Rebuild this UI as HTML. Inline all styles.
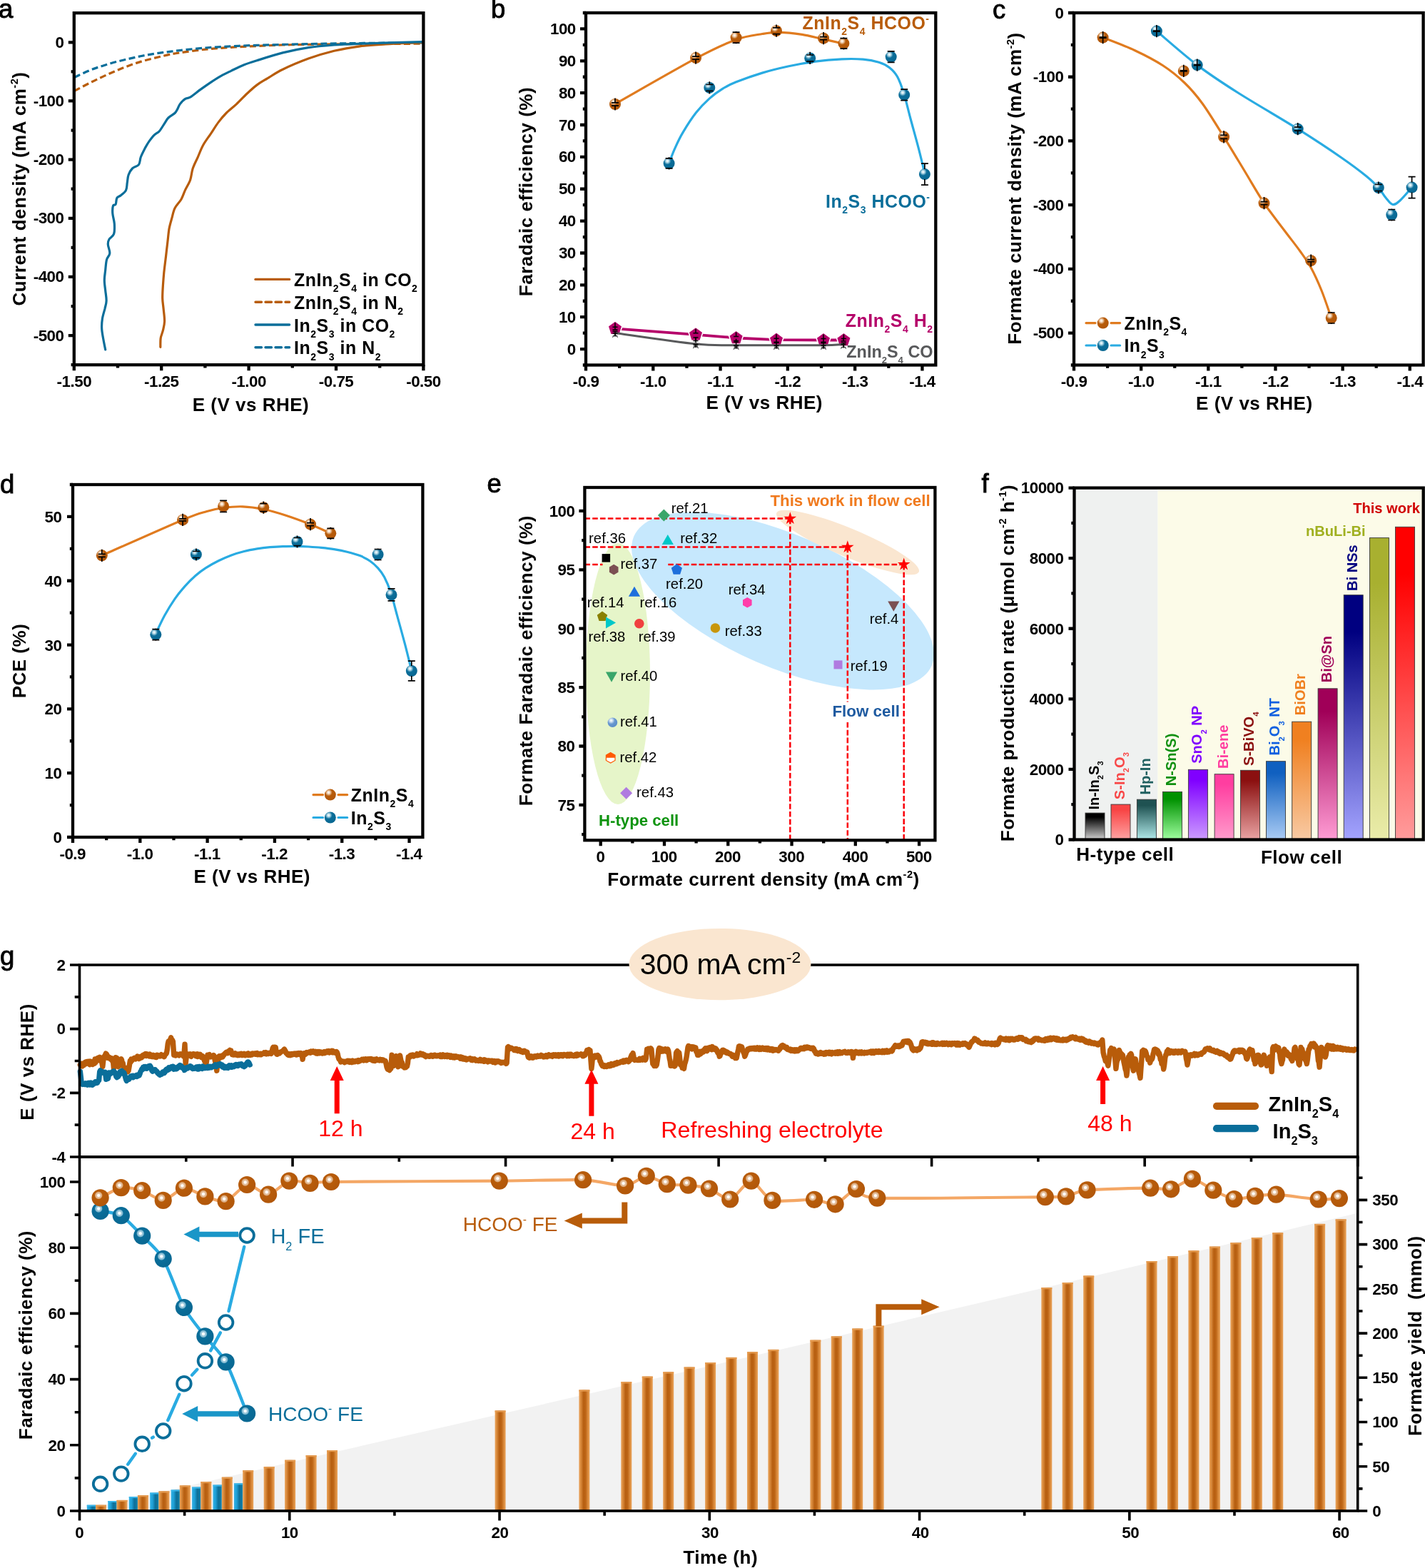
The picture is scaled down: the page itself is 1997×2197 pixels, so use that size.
<!DOCTYPE html>
<html lang="en"><head><meta charset="utf-8"><title>Figure</title>
<style>
html,body{margin:0;padding:0;background:#fff;}
body{width:1997px;height:2197px;overflow:hidden;}
svg{display:block;font-family:"Liberation Sans", Arial, Helvetica, sans-serif;}
text{font-family:"Liberation Sans", Arial, Helvetica, sans-serif;}
</style></head><body>
<svg width="1997" height="2197" viewBox="0 0 1997 2197">
<defs>
<radialGradient id="gO" cx="0.36" cy="0.30" r="0.75" fx="0.36" fy="0.30"><stop offset="0" stop-color="#ffffff"/><stop offset="0.16" stop-color="#f3d9bf"/><stop offset="0.42" stop-color="#b85c0a"/><stop offset="1" stop-color="#b0560a"/></radialGradient>
<radialGradient id="gS" cx="0.36" cy="0.30" r="0.75" fx="0.36" fy="0.30"><stop offset="0" stop-color="#ffffff"/><stop offset="0.2" stop-color="#cfe0f2"/><stop offset="0.5" stop-color="#6897cf"/><stop offset="1" stop-color="#5a8cc8"/></radialGradient>
<radialGradient id="gB" cx="0.36" cy="0.30" r="0.75" fx="0.36" fy="0.30"><stop offset="0" stop-color="#ffffff"/><stop offset="0.16" stop-color="#bfe0ec"/><stop offset="0.42" stop-color="#0a6e9a"/><stop offset="1" stop-color="#086690"/></radialGradient>
<radialGradient id="gO2" cx="0.40" cy="0.36" r="0.7" fx="0.40" fy="0.36"><stop offset="0" stop-color="#ffffff"/><stop offset="0.09" stop-color="#ffffff"/><stop offset="0.15" stop-color="#e9c9aa"/><stop offset="0.27" stop-color="#dba97c"/><stop offset="0.33" stop-color="#b85c0a"/><stop offset="1" stop-color="#b0560a"/></radialGradient>
<radialGradient id="gB2" cx="0.40" cy="0.36" r="0.7" fx="0.40" fy="0.36"><stop offset="0" stop-color="#ffffff"/><stop offset="0.09" stop-color="#ffffff"/><stop offset="0.15" stop-color="#aad2e2"/><stop offset="0.27" stop-color="#7cb6cf"/><stop offset="0.33" stop-color="#0a6e9a"/><stop offset="1" stop-color="#086690"/></radialGradient>
</defs>
<rect width="1997" height="2197" fill="#fff"/>
<path d="M104.1 127.5C107.8 125.6 119.4 119.4 126.1 116.0C132.8 112.6 138.1 110.1 144.1 107.4C150.1 104.6 156.1 102.0 162.1 99.4C168.1 96.9 174.1 94.4 180.1 92.2C186.1 90.0 192.1 87.9 198.1 86.1C204.1 84.3 210.1 82.9 216.2 81.4C222.2 79.9 228.2 78.4 234.2 77.1C240.2 75.8 243.2 75.2 252.2 73.9C261.2 72.5 276.2 70.4 288.2 69.2C300.2 67.9 312.2 67.1 324.2 66.3C336.2 65.5 348.2 65.0 360.3 64.5C372.3 63.9 384.3 63.4 396.3 63.0C408.3 62.7 414.3 62.6 432.3 62.3C450.3 62.1 477.6 61.8 504.4 61.6C531.1 61.4 577.9 61.3 592.6 61.2" stroke="#b85c0a" stroke-width="3.2" fill="none" stroke-dasharray="9 4.5"/>
<path d="M104.1 108.4C107.8 106.8 119.4 101.1 126.1 98.4C132.8 95.6 138.1 94.1 144.1 92.2C150.1 90.3 156.1 88.4 162.1 86.8C168.1 85.2 174.1 83.9 180.1 82.5C186.1 81.1 192.1 79.7 198.1 78.5C204.1 77.3 210.1 76.3 216.2 75.3C222.2 74.3 228.2 73.6 234.2 72.8C240.2 72.0 243.2 71.6 252.2 70.6C261.2 69.6 276.2 68.0 288.2 67.0C300.2 66.0 312.2 65.4 324.2 64.8C336.2 64.2 342.2 63.9 360.3 63.4C378.3 62.9 408.3 62.1 432.3 61.6C456.3 61.1 477.6 60.8 504.4 60.5C531.1 60.2 577.9 59.9 592.6 59.8" stroke="#0a6e9a" stroke-width="3.2" fill="none" stroke-dasharray="9 4.5"/>
<path d="M592.6 59.4C583.9 59.9 555.1 61.1 540.4 62.0C525.7 62.9 516.4 63.3 504.4 64.8C492.4 66.4 480.3 68.4 468.3 71.3C456.3 74.2 444.3 77.8 432.3 82.1C420.3 86.5 405.9 92.6 396.3 97.3C386.7 101.9 380.7 106.3 374.7 109.9C368.7 113.5 365.1 115.3 360.3 118.9C355.5 122.5 350.6 127.0 345.8 131.5C341.0 136.0 336.2 141.4 331.4 145.9C326.6 150.4 321.2 154.3 317.0 158.5C312.8 162.7 309.8 166.3 306.2 171.1C302.6 175.9 299.0 181.9 295.4 187.3C291.8 192.7 287.6 198.1 284.6 203.5C281.6 208.9 279.8 214.4 277.4 219.8C275.0 225.2 272.0 230.6 270.2 236.0C268.4 241.4 268.4 247.1 266.6 252.2C264.8 257.3 261.5 262.1 259.4 266.6C257.3 271.1 256.4 275.0 254.0 279.2C251.6 283.4 247.2 287.3 245.0 291.8C242.8 296.3 242.0 301.4 240.7 306.2C239.3 311.0 238.0 315.2 237.0 320.6C236.1 326.0 235.7 332.0 234.9 338.6C234.1 345.2 233.2 353.1 232.4 360.3C231.5 367.5 230.5 375.3 229.8 381.9C229.2 388.5 228.8 393.9 228.4 399.9C228.0 405.9 227.6 412.5 227.7 417.9C227.8 423.3 228.6 426.9 229.1 432.3C229.6 437.7 230.7 445.2 230.6 450.3C230.4 455.4 229.3 459.0 228.4 462.9C227.5 466.8 225.8 469.8 225.2 473.7C224.6 477.6 224.9 484.2 224.8 486.3" stroke="#b85c0a" stroke-width="3.2" fill="none" stroke-linecap="round"/>
<path d="M592.6 58.7C577.9 59.1 525.1 60.5 504.4 61.2C483.6 62.0 480.3 62.1 468.3 63.0C456.3 63.9 444.3 64.8 432.3 66.6C420.3 68.4 408.3 70.9 396.3 73.9C384.3 76.9 369.3 81.8 360.3 84.7C351.3 87.5 348.2 88.4 342.2 90.8C336.2 93.2 329.6 96.5 324.2 99.1C318.8 101.7 314.6 103.6 309.8 106.3C305.0 109.0 300.2 112.1 295.4 115.3C290.6 118.5 285.8 121.9 281.0 125.4C276.2 128.9 270.2 134.0 266.6 136.2C263.0 138.4 261.8 137.1 259.4 138.7C257.0 140.3 254.0 143.5 252.2 145.9C250.4 148.3 249.8 151.0 248.6 153.1C247.4 155.2 247.1 156.5 245.0 158.5C242.9 160.5 238.4 162.6 236.0 165.0C233.6 167.4 232.7 169.8 230.6 172.9C228.5 176.0 225.8 181.0 223.4 183.7C221.0 186.4 218.6 186.7 216.2 189.1C213.8 191.5 211.1 195.1 208.9 198.1C206.8 201.1 205.5 203.5 203.5 207.1C201.6 210.8 198.9 215.9 197.4 219.8C195.9 223.7 196.5 227.9 194.5 230.6C192.6 233.3 187.9 233.6 185.5 236.0C183.1 238.4 181.3 241.7 180.1 245.0C178.9 248.3 178.9 252.2 178.3 255.8C177.7 259.4 178.0 263.6 176.5 266.6C175.0 269.6 171.4 272.0 169.3 273.8C167.2 275.6 165.1 275.3 163.9 277.4C162.7 279.5 163.0 284.6 162.1 286.4C161.2 288.2 159.2 286.1 158.5 288.2C157.8 290.3 157.5 294.8 157.8 299.0C158.1 303.2 160.0 308.6 160.3 313.4C160.6 318.2 160.8 324.2 159.6 327.8C158.4 331.4 154.5 332.6 153.1 335.0C151.7 337.4 151.2 338.9 151.3 342.2C151.4 345.5 154.1 351.3 153.8 354.9C153.5 358.5 150.5 360.0 149.5 363.9C148.5 367.8 148.2 373.5 147.7 378.3C147.2 383.1 146.3 387.9 146.3 392.7C146.3 397.5 147.2 402.3 147.7 407.1C148.2 411.9 149.3 417.3 149.1 421.5C149.0 425.7 147.9 428.1 147.0 432.3C146.0 436.5 144.1 441.9 143.4 446.7C142.7 451.5 142.3 455.7 142.7 461.1C143.0 466.5 144.7 474.3 145.5 479.1C146.4 483.9 147.3 488.1 147.7 489.9" stroke="#0a6e9a" stroke-width="3.2" fill="none" stroke-linecap="round"/>
<rect x="103.80" y="18.20" width="489.60" height="493.00" fill="none" stroke="#000" stroke-width="4.3"/>
<path d="M103.80 511.20v8.00M226.20 511.20v8.00M348.60 511.20v8.00M471.00 511.20v8.00M593.40 511.20v8.00M165.00 511.20v4.20M287.40 511.20v4.20M409.80 511.20v4.20M532.20 511.20v4.20" stroke="#000" stroke-width="4.3" fill="none"/>
<path d="M103.80 59.28h-8.00M103.80 141.45h-8.00M103.80 223.62h-8.00M103.80 305.78h-8.00M103.80 387.95h-8.00M103.80 470.12h-8.00M103.80 100.37h-4.20M103.80 182.53h-4.20M103.80 264.70h-4.20M103.80 346.87h-4.20M103.80 429.03h-4.20M103.80 511.20h-4.20" stroke="#000" stroke-width="4.3" fill="none"/>
<text x="103.85" y="542.40" font-size="22.4" text-anchor="middle" font-weight="bold" letter-spacing="-0.5">-1.50</text>
<text x="226.25" y="542.40" font-size="22.4" text-anchor="middle" font-weight="bold" letter-spacing="-0.5">-1.25</text>
<text x="348.65" y="542.40" font-size="22.4" text-anchor="middle" font-weight="bold" letter-spacing="-0.5">-1.00</text>
<text x="471.05" y="542.40" font-size="22.4" text-anchor="middle" font-weight="bold" letter-spacing="-0.5">-0.75</text>
<text x="593.45" y="542.40" font-size="22.4" text-anchor="middle" font-weight="bold" letter-spacing="-0.5">-0.50</text>
<text x="89.50" y="66.78" font-size="22.4" text-anchor="end" font-weight="bold" letter-spacing="-0.5">0</text>
<text x="89.50" y="148.95" font-size="22.4" text-anchor="end" font-weight="bold" letter-spacing="-0.5">-100</text>
<text x="89.50" y="231.12" font-size="22.4" text-anchor="end" font-weight="bold" letter-spacing="-0.5">-200</text>
<text x="89.50" y="313.28" font-size="22.4" text-anchor="end" font-weight="bold" letter-spacing="-0.5">-300</text>
<text x="89.50" y="395.45" font-size="22.4" text-anchor="end" font-weight="bold" letter-spacing="-0.5">-400</text>
<text x="89.50" y="477.62" font-size="22.4" text-anchor="end" font-weight="bold" letter-spacing="-0.5">-500</text>
<text x="351.55" y="575.50" font-size="26.0" text-anchor="middle" font-weight="bold" letter-spacing="0.5">E (V vs RHE)</text>
<text x="35.60" y="264.50" font-size="26.0" text-anchor="middle" font-weight="bold" letter-spacing="0.5" transform="rotate(-90 35.60 264.50)">Current density (mA cm<tspan dy="-10.40" font-size="14.56">-2</tspan><tspan dy="10.40">)</tspan></text>
<path d="M358 391.4H405.6" stroke="#b85c0a" stroke-width="3.4" stroke-linecap="round"/>
<text x="412.00" y="400.90" font-size="24.9" font-weight="bold" letter-spacing="0.55">ZnIn<tspan dy="8.22" font-size="13.94">2</tspan><tspan dy="-8.22">S</tspan><tspan dy="8.22" font-size="13.94">4</tspan><tspan dy="-8.22"> in CO</tspan><tspan dy="8.22" font-size="13.94">2</tspan></text>
<path d="M358 423.2H405.6" stroke="#b85c0a" stroke-width="3.4" stroke-linecap="round" stroke-dasharray="8.5 5.5"/>
<text x="412.00" y="432.70" font-size="24.9" font-weight="bold" letter-spacing="0.55">ZnIn<tspan dy="8.22" font-size="13.94">2</tspan><tspan dy="-8.22">S</tspan><tspan dy="8.22" font-size="13.94">4</tspan><tspan dy="-8.22"> in N</tspan><tspan dy="8.22" font-size="13.94">2</tspan></text>
<path d="M358 455.0H405.6" stroke="#0a6e9a" stroke-width="3.4" stroke-linecap="round"/>
<text x="412.00" y="464.50" font-size="24.9" font-weight="bold" letter-spacing="0.55">In<tspan dy="8.22" font-size="13.94">2</tspan><tspan dy="-8.22">S</tspan><tspan dy="8.22" font-size="13.94">3</tspan><tspan dy="-8.22"> in CO</tspan><tspan dy="8.22" font-size="13.94">2</tspan></text>
<path d="M358 486.8H405.6" stroke="#0a6e9a" stroke-width="3.4" stroke-linecap="round" stroke-dasharray="8.5 5.5"/>
<text x="412.00" y="496.30" font-size="24.9" font-weight="bold" letter-spacing="0.55">In<tspan dy="8.22" font-size="13.94">2</tspan><tspan dy="-8.22">S</tspan><tspan dy="8.22" font-size="13.94">3</tspan><tspan dy="-8.22"> in N</tspan><tspan dy="8.22" font-size="13.94">2</tspan></text>
<text x="-2.00" y="24.50" font-size="36.5" stroke="#000" stroke-width="0.9">a</text>
<path d="M937.7 228.3C939.1 224.9 942.6 215.0 945.8 207.9C949.0 200.8 952.0 193.9 957.0 185.6C962.0 177.2 969.3 165.7 975.5 157.8C981.7 149.9 987.9 143.7 994.1 138.1C1000.3 132.5 1006.4 128.2 1012.6 124.4C1018.8 120.6 1021.9 118.8 1031.2 115.1C1040.5 111.4 1055.9 105.8 1068.3 102.1C1080.7 98.4 1093.0 95.5 1105.4 92.8C1117.8 90.1 1130.2 87.8 1142.6 86.1C1155.0 84.4 1168.6 83.3 1179.7 82.8C1190.8 82.3 1200.8 82.4 1209.4 83.1C1218.1 83.8 1225.4 85.3 1231.6 87.2C1237.8 89.1 1242.2 91.3 1246.5 94.7C1250.8 98.1 1254.2 101.4 1257.6 107.6C1261.0 113.8 1263.8 121.9 1266.9 131.8C1270.0 141.7 1272.8 154.3 1276.2 167.0C1279.6 179.7 1284.0 195.2 1287.3 207.9C1290.6 220.6 1294.5 237.2 1295.9 243.1" stroke="#29abe2" stroke-width="3.2" fill="none"/>
<path d="M862.3 145.5C881.2 134.9 947.4 96.7 975.5 81.7C1003.6 66.7 1015.7 61.4 1031.2 55.7C1046.7 50.0 1058.4 49.2 1068.3 47.5C1078.2 45.8 1081.3 45.2 1090.6 45.3C1099.9 45.4 1113.5 46.7 1124.0 48.3C1134.5 49.9 1144.0 52.8 1153.7 54.9C1163.4 57.0 1177.5 60.2 1182.3 61.2" stroke="#e07b1f" stroke-width="3.2" fill="none"/>
<path d="M862.0 460.3L975.0 468.8L1031.6 473.5L1088.0 476.2L1154.0 476.5L1182.4 476.5" stroke="#b5006a" stroke-width="3.8" fill="none"/>
<polygon points="862.0,460.4 863.6,465.4 868.8,465.4 864.6,468.4 866.2,473.4 862.0,470.4 857.8,473.4 859.4,468.4 855.2,465.4 860.4,465.4" fill="#58595b"/>
<polygon points="975.0,475.8 976.6,480.8 981.8,480.8 977.6,483.8 979.2,488.8 975.0,485.8 970.8,488.8 972.4,483.8 968.2,480.8 973.4,480.8" fill="#58595b"/>
<polygon points="1031.6,477.5 1033.2,482.5 1038.4,482.5 1034.2,485.5 1035.8,490.5 1031.6,487.5 1027.4,490.5 1029.0,485.5 1024.8,482.5 1030.0,482.5" fill="#58595b"/>
<polygon points="1088.0,477.5 1089.6,482.5 1094.8,482.5 1090.6,485.5 1092.2,490.5 1088.0,487.5 1083.8,490.5 1085.4,485.5 1081.2,482.5 1086.4,482.5" fill="#58595b"/>
<polygon points="1154.0,477.5 1155.6,482.5 1160.8,482.5 1156.6,485.5 1158.2,490.5 1154.0,487.5 1149.8,490.5 1151.4,485.5 1147.2,482.5 1152.4,482.5" fill="#58595b"/>
<polygon points="1182.0,476.3 1183.6,481.3 1188.8,481.3 1184.6,484.3 1186.2,489.3 1182.0,486.3 1177.8,489.3 1179.4,484.3 1175.2,481.3 1180.4,481.3" fill="#58595b"/>
<polygon points="862.0,449.8 872.0,457.1 868.2,468.8 855.8,468.8 852.0,457.1" fill="#b5006a" stroke="#fff" stroke-width="1.6"/>
<polygon points="975.0,458.3 985.0,465.6 981.2,477.3 968.8,477.3 965.0,465.6" fill="#b5006a" stroke="#fff" stroke-width="1.6"/>
<polygon points="1031.6,463.0 1041.6,470.3 1037.8,482.0 1025.4,482.0 1021.6,470.3" fill="#b5006a" stroke="#fff" stroke-width="1.6"/>
<polygon points="1088.0,465.7 1098.0,473.0 1094.2,484.7 1081.8,484.7 1078.0,473.0" fill="#b5006a" stroke="#fff" stroke-width="1.6"/>
<polygon points="1154.0,466.0 1164.0,473.3 1160.2,485.0 1147.8,485.0 1144.0,473.3" fill="#b5006a" stroke="#fff" stroke-width="1.6"/>
<polygon points="1182.4,466.0 1192.4,473.3 1188.6,485.0 1176.2,485.0 1172.4,473.3" fill="#b5006a" stroke="#fff" stroke-width="1.6"/>
<path d="M862.0 466.6C880.8 469.2 946.7 479.1 975.0 482.0C1003.3 484.9 1012.8 483.4 1031.6 483.7C1050.4 484.0 1067.6 483.7 1088.0 483.7C1108.4 483.7 1138.3 483.9 1154.0 483.7C1169.7 483.5 1177.3 482.7 1182.0 482.5" stroke="#58595b" stroke-width="3" fill="none"/>
<path d="M858.5 458.3h7.0M858.5 464.3h7.0M862.0 452.3V458.3M862.0 464.3V470.3" stroke="#000" stroke-width="1.5" fill="none"/>
<path d="M971.5 466.8h7.0M971.5 472.8h7.0M975.0 460.8V466.8M975.0 472.8V478.8" stroke="#000" stroke-width="1.5" fill="none"/>
<path d="M1028.1 471.5h7.0M1028.1 477.5h7.0M1031.6 465.5V471.5M1031.6 477.5V483.5" stroke="#000" stroke-width="1.5" fill="none"/>
<path d="M1084.5 474.2h7.0M1084.5 480.2h7.0M1088.0 468.2V474.2M1088.0 480.2V486.2" stroke="#000" stroke-width="1.5" fill="none"/>
<path d="M1150.5 474.5h7.0M1150.5 480.5h7.0M1154.0 468.5V474.5M1154.0 480.5V486.5" stroke="#000" stroke-width="1.5" fill="none"/>
<path d="M1178.9 474.5h7.0M1178.9 480.5h7.0M1182.4 468.5V474.5M1182.4 480.5V486.5" stroke="#000" stroke-width="1.5" fill="none"/>
<path d="M858.5 462.1h7.0M858.5 467.1h7.0M862.0 457.6V462.1M862.0 467.1V471.6" stroke="#000" stroke-width="1.5" fill="none"/>
<path d="M971.5 477.5h7.0M971.5 482.5h7.0M975.0 473.0V477.5M975.0 482.5V487.0" stroke="#000" stroke-width="1.5" fill="none"/>
<path d="M1028.1 479.2h7.0M1028.1 484.2h7.0M1031.6 474.7V479.2M1031.6 484.2V488.7" stroke="#000" stroke-width="1.5" fill="none"/>
<path d="M1084.5 479.2h7.0M1084.5 484.2h7.0M1088.0 474.7V479.2M1088.0 484.2V488.7" stroke="#000" stroke-width="1.5" fill="none"/>
<path d="M1150.5 479.2h7.0M1150.5 484.2h7.0M1154.0 474.7V479.2M1154.0 484.2V488.7" stroke="#000" stroke-width="1.5" fill="none"/>
<path d="M1178.5 478.0h7.0M1178.5 483.0h7.0M1182.0 473.5V478.0M1182.0 483.0V487.5" stroke="#000" stroke-width="1.5" fill="none"/>
<circle cx="862.0" cy="146.0" r="8" fill="url(#gO)"/>
<path d="M857.0 143.8h10M857.0 148.2h10M862.0 137.4V143.8M862.0 148.2V154.6" stroke="#000" stroke-width="1.7" fill="none"/>
<circle cx="975.1" cy="81.1" r="8" fill="url(#gO)"/>
<path d="M970.1 79.1h10M970.1 83.1h10M975.1 72.5V79.1M975.1 83.1V89.7" stroke="#000" stroke-width="1.7" fill="none"/>
<circle cx="1031.6" cy="52.6" r="8" fill="url(#gO)"/>
<path d="M1026.6 45.1h10M1026.6 60.1h10M1031.6 44.0V45.1M1031.6 60.1V61.2" stroke="#000" stroke-width="1.7" fill="none"/>
<circle cx="1088.0" cy="43.2" r="8" fill="url(#gO)"/>
<path d="M1083.0 38.8h10M1083.0 47.6h10M1088.0 34.6V38.8M1088.0 47.6V51.8" stroke="#000" stroke-width="1.7" fill="none"/>
<circle cx="1154.1" cy="53.7" r="8" fill="url(#gO)"/>
<path d="M1149.1 51.7h10M1149.1 55.7h10M1154.1 45.1V51.7M1154.1 55.7V62.3" stroke="#000" stroke-width="1.7" fill="none"/>
<circle cx="1182.4" cy="60.9" r="8" fill="url(#gO)"/>
<path d="M1177.4 53.6h10M1177.4 68.2h10M1182.4 52.3V53.6M1182.4 68.2V69.5" stroke="#000" stroke-width="1.7" fill="none"/>
<circle cx="937.6" cy="228.8" r="8" fill="url(#gB)"/>
<path d="M932.6 221.8h10M932.6 235.8h10M937.6 220.2V221.8M937.6 235.8V237.4" stroke="#000" stroke-width="1.7" fill="none"/>
<circle cx="994.3" cy="122.9" r="8" fill="url(#gB)"/>
<path d="M989.3 118.5h10M989.3 127.3h10M994.3 114.3V118.5M994.3 127.3V131.5" stroke="#000" stroke-width="1.7" fill="none"/>
<circle cx="1135.2" cy="81.4" r="8" fill="url(#gB)"/>
<path d="M1130.2 77.0h10M1130.2 85.8h10M1135.2 72.8V77.0M1135.2 85.8V90.0" stroke="#000" stroke-width="1.7" fill="none"/>
<circle cx="1248.7" cy="79.6" r="8" fill="url(#gB)"/>
<path d="M1243.7 71.9h10M1243.7 87.3h10M1248.7 71.0V71.9M1248.7 87.3V88.2" stroke="#000" stroke-width="1.7" fill="none"/>
<circle cx="1267.2" cy="132.9" r="8" fill="url(#gB)"/>
<path d="M1262.2 125.2h10M1262.2 140.6h10M1267.2 124.3V125.2M1267.2 140.6V141.5" stroke="#000" stroke-width="1.7" fill="none"/>
<circle cx="1295.9" cy="244.1" r="8" fill="url(#gB)"/>
<path d="M1290.9 229.1h10M1290.9 259.1h10M1295.9 229.1V237.1M1295.9 251.1V259.1" stroke="#000" stroke-width="1.7" fill="none"/>
<rect x="821.00" y="18.00" width="490.30" height="493.50" fill="none" stroke="#000" stroke-width="4.3"/>
<path d="M821.00 511.50v8.00M915.29 511.50v8.00M1009.58 511.50v8.00M1103.87 511.50v8.00M1198.15 511.50v8.00M1292.44 511.50v8.00M868.14 511.50v4.20M962.43 511.50v4.20M1056.72 511.50v4.20M1151.01 511.50v4.20M1245.30 511.50v4.20" stroke="#000" stroke-width="4.3" fill="none"/>
<path d="M821.00 489.07h-8.00M821.00 444.20h-8.00M821.00 399.34h-8.00M821.00 354.48h-8.00M821.00 309.61h-8.00M821.00 264.75h-8.00M821.00 219.89h-8.00M821.00 175.02h-8.00M821.00 130.16h-8.00M821.00 85.30h-8.00M821.00 40.43h-8.00M821.00 511.50h-4.20M821.00 466.64h-4.20M821.00 421.77h-4.20M821.00 376.91h-4.20M821.00 332.05h-4.20M821.00 287.18h-4.20M821.00 242.32h-4.20M821.00 197.45h-4.20M821.00 152.59h-4.20M821.00 107.73h-4.20M821.00 62.86h-4.20M821.00 18.00h-4.20" stroke="#000" stroke-width="4.3" fill="none"/>
<text x="821.05" y="542.40" font-size="22.4" text-anchor="middle" font-weight="bold" letter-spacing="-0.5">-0.9</text>
<text x="915.34" y="542.40" font-size="22.4" text-anchor="middle" font-weight="bold" letter-spacing="-0.5">-1.0</text>
<text x="1009.63" y="542.40" font-size="22.4" text-anchor="middle" font-weight="bold" letter-spacing="-0.5">-1.1</text>
<text x="1103.92" y="542.40" font-size="22.4" text-anchor="middle" font-weight="bold" letter-spacing="-0.5">-1.2</text>
<text x="1198.20" y="542.40" font-size="22.4" text-anchor="middle" font-weight="bold" letter-spacing="-0.5">-1.3</text>
<text x="1292.49" y="542.40" font-size="22.4" text-anchor="middle" font-weight="bold" letter-spacing="-0.5">-1.4</text>
<text x="806.80" y="496.57" font-size="22.4" text-anchor="end" font-weight="bold" letter-spacing="-0.5">0</text>
<text x="806.80" y="451.70" font-size="22.4" text-anchor="end" font-weight="bold" letter-spacing="-0.5">10</text>
<text x="806.80" y="406.84" font-size="22.4" text-anchor="end" font-weight="bold" letter-spacing="-0.5">20</text>
<text x="806.80" y="361.98" font-size="22.4" text-anchor="end" font-weight="bold" letter-spacing="-0.5">30</text>
<text x="806.80" y="317.11" font-size="22.4" text-anchor="end" font-weight="bold" letter-spacing="-0.5">40</text>
<text x="806.80" y="272.25" font-size="22.4" text-anchor="end" font-weight="bold" letter-spacing="-0.5">50</text>
<text x="806.80" y="227.39" font-size="22.4" text-anchor="end" font-weight="bold" letter-spacing="-0.5">60</text>
<text x="806.80" y="182.52" font-size="22.4" text-anchor="end" font-weight="bold" letter-spacing="-0.5">70</text>
<text x="806.80" y="137.66" font-size="22.4" text-anchor="end" font-weight="bold" letter-spacing="-0.5">80</text>
<text x="806.80" y="92.80" font-size="22.4" text-anchor="end" font-weight="bold" letter-spacing="-0.5">90</text>
<text x="806.80" y="47.93" font-size="22.4" text-anchor="end" font-weight="bold" letter-spacing="-0.5">100</text>
<text x="1071.25" y="572.60" font-size="26.0" text-anchor="middle" font-weight="bold" letter-spacing="0.5">E (V vs RHE)</text>
<text x="745.50" y="268.50" font-size="26.0" text-anchor="middle" font-weight="bold" letter-spacing="0.5" transform="rotate(-90 745.50 268.50)">Faradaic efficiency (%)</text>
<text x="1302.55" y="41.00" font-size="24.9" text-anchor="end" font-weight="bold" fill="#b85c0a" letter-spacing="0.55">ZnIn<tspan dy="8.22" font-size="13.94">2</tspan><tspan dy="-8.22">S</tspan><tspan dy="8.22" font-size="13.94">4</tspan><tspan dy="-8.22"> HCOO</tspan><tspan dy="-9.96" font-size="13.94">-</tspan></text>
<text x="1303.55" y="291.00" font-size="24.9" text-anchor="end" font-weight="bold" fill="#0a6e9a" letter-spacing="0.55">In<tspan dy="8.22" font-size="13.94">2</tspan><tspan dy="-8.22">S</tspan><tspan dy="8.22" font-size="13.94">3</tspan><tspan dy="-8.22"> HCOO</tspan><tspan dy="-9.96" font-size="13.94">-</tspan></text>
<text x="1307.55" y="458.00" font-size="24.9" text-anchor="end" font-weight="bold" fill="#b5006a" letter-spacing="0.55">ZnIn<tspan dy="8.22" font-size="13.94">2</tspan><tspan dy="-8.22">S</tspan><tspan dy="8.22" font-size="13.94">4</tspan><tspan dy="-8.22"> H</tspan><tspan dy="8.22" font-size="13.94">2</tspan></text>
<text x="1307.50" y="500.90" font-size="23.4" text-anchor="end" font-weight="bold" fill="#58595b">ZnIn<tspan dy="7.72" font-size="13.10">2</tspan><tspan dy="-7.72">S</tspan><tspan dy="7.72" font-size="13.10">4</tspan><tspan dy="-7.72"> CO</tspan></text>
<text x="688.00" y="25.20" font-size="36.5" stroke="#000" stroke-width="0.9">b</text>
<path d="M1620.9 43.6C1630.4 51.5 1658.7 76.7 1677.7 91.1C1696.7 105.5 1711.5 115.1 1735.0 130.0C1758.5 144.9 1794.5 165.5 1818.7 180.7C1842.9 195.9 1864.0 209.9 1880.0 221.0C1896.0 232.1 1906.4 240.0 1915.0 247.0C1923.6 254.0 1927.3 258.0 1931.8 263.0C1936.3 268.0 1938.7 273.1 1942.0 277.0C1945.3 280.9 1948.3 285.8 1951.6 286.5C1954.9 287.2 1957.5 285.0 1962.0 281.0C1966.5 277.0 1975.8 265.7 1978.6 262.6" stroke="#29abe2" stroke-width="3.2" fill="none"/>
<path d="M1545.6 52.6C1553.0 55.6 1575.9 63.9 1590.0 70.5C1604.1 77.1 1618.3 84.4 1630.0 92.0C1641.7 99.6 1650.8 107.2 1660.0 116.0C1669.2 124.8 1675.8 132.4 1685.0 145.0C1694.2 157.6 1705.1 175.8 1715.1 191.8C1725.1 207.8 1735.6 225.5 1745.0 241.0C1754.4 256.5 1762.3 270.9 1771.5 284.6C1780.7 298.3 1791.6 311.8 1800.0 323.0C1808.4 334.2 1815.8 343.3 1822.0 352.0C1828.2 360.7 1832.2 365.8 1837.2 375.0C1842.2 384.2 1847.2 395.2 1852.0 407.0C1856.8 418.8 1863.4 439.1 1865.7 445.5" stroke="#e07b1f" stroke-width="3.2" fill="none"/>
<circle cx="1545.6" cy="52.6" r="8" fill="url(#gO)"/>
<path d="M1540.6 52.0h10M1540.6 53.2h10M1545.6 44.0V52.0M1545.6 53.2V61.2" stroke="#000" stroke-width="1.7" fill="none"/>
<circle cx="1658.8" cy="99.4" r="8" fill="url(#gO)"/>
<path d="M1653.8 98.8h10M1653.8 100.0h10M1658.8 90.8V98.8M1658.8 100.0V108.0" stroke="#000" stroke-width="1.7" fill="none"/>
<circle cx="1715.1" cy="191.8" r="8" fill="url(#gO)"/>
<path d="M1710.1 189.3h10M1710.1 194.3h10M1715.1 183.2V189.3M1715.1 194.3V200.4" stroke="#000" stroke-width="1.7" fill="none"/>
<circle cx="1771.5" cy="284.6" r="8" fill="url(#gO)"/>
<path d="M1766.5 282.6h10M1766.5 286.6h10M1771.5 276.0V282.6M1771.5 286.6V293.2" stroke="#000" stroke-width="1.7" fill="none"/>
<circle cx="1837.2" cy="365.2" r="8" fill="url(#gO)"/>
<path d="M1832.2 363.7h10M1832.2 366.7h10M1837.2 356.6V363.7M1837.2 366.7V373.8" stroke="#000" stroke-width="1.7" fill="none"/>
<circle cx="1865.7" cy="445.5" r="8" fill="url(#gO)"/>
<path d="M1860.7 438.0h10M1860.7 453.0h10M1865.7 436.9V438.0M1865.7 453.0V454.1" stroke="#000" stroke-width="1.7" fill="none"/>
<circle cx="1620.9" cy="43.6" r="8" fill="url(#gB)"/>
<path d="M1615.9 43.0h10M1615.9 44.2h10M1620.9 35.0V43.0M1620.9 44.2V52.2" stroke="#000" stroke-width="1.7" fill="none"/>
<circle cx="1677.7" cy="91.1" r="8" fill="url(#gB)"/>
<path d="M1672.7 90.5h10M1672.7 91.7h10M1677.7 82.5V90.5M1677.7 91.7V99.7" stroke="#000" stroke-width="1.7" fill="none"/>
<circle cx="1818.7" cy="180.7" r="8" fill="url(#gB)"/>
<path d="M1813.7 178.2h10M1813.7 183.2h10M1818.7 172.1V178.2M1818.7 183.2V189.3" stroke="#000" stroke-width="1.7" fill="none"/>
<circle cx="1931.8" cy="263.0" r="8" fill="url(#gB)"/>
<path d="M1926.8 258.5h10M1926.8 267.5h10M1931.8 254.4V258.5M1931.8 267.5V271.6" stroke="#000" stroke-width="1.7" fill="none"/>
<circle cx="1950.3" cy="301.0" r="8" fill="url(#gB)"/>
<path d="M1945.3 293.5h10M1945.3 308.5h10M1950.3 292.4V293.5M1950.3 308.5V309.6" stroke="#000" stroke-width="1.7" fill="none"/>
<circle cx="1978.6" cy="262.6" r="8" fill="url(#gB)"/>
<path d="M1973.6 247.6h10M1973.6 277.6h10M1978.6 247.6V255.6M1978.6 269.6V277.6" stroke="#000" stroke-width="1.7" fill="none"/>
<rect x="1505.00" y="18.00" width="489.60" height="493.50" fill="none" stroke="#000" stroke-width="4.3"/>
<path d="M1505.00 511.50v8.00M1599.15 511.50v8.00M1693.31 511.50v8.00M1787.46 511.50v8.00M1881.62 511.50v8.00M1975.77 511.50v8.00M1552.08 511.50v4.20M1646.23 511.50v4.20M1740.38 511.50v4.20M1834.54 511.50v4.20M1928.69 511.50v4.20" stroke="#000" stroke-width="4.3" fill="none"/>
<path d="M1505.00 466.64h-8.00M1505.00 376.91h-8.00M1505.00 287.18h-8.00M1505.00 197.45h-8.00M1505.00 107.73h-8.00M1505.00 18.00h-8.00M1505.00 511.50h-4.20M1505.00 421.77h-4.20M1505.00 332.05h-4.20M1505.00 242.32h-4.20M1505.00 152.59h-4.20M1505.00 62.86h-4.20" stroke="#000" stroke-width="4.3" fill="none"/>
<text x="1505.05" y="542.40" font-size="22.4" text-anchor="middle" font-weight="bold" letter-spacing="-0.5">-0.9</text>
<text x="1599.20" y="542.40" font-size="22.4" text-anchor="middle" font-weight="bold" letter-spacing="-0.5">-1.0</text>
<text x="1693.36" y="542.40" font-size="22.4" text-anchor="middle" font-weight="bold" letter-spacing="-0.5">-1.1</text>
<text x="1787.51" y="542.40" font-size="22.4" text-anchor="middle" font-weight="bold" letter-spacing="-0.5">-1.2</text>
<text x="1881.67" y="542.40" font-size="22.4" text-anchor="middle" font-weight="bold" letter-spacing="-0.5">-1.3</text>
<text x="1975.82" y="542.40" font-size="22.4" text-anchor="middle" font-weight="bold" letter-spacing="-0.5">-1.4</text>
<text x="1490.50" y="474.14" font-size="22.4" text-anchor="end" font-weight="bold" letter-spacing="-0.5">-500</text>
<text x="1490.50" y="384.41" font-size="22.4" text-anchor="end" font-weight="bold" letter-spacing="-0.5">-400</text>
<text x="1490.50" y="294.68" font-size="22.4" text-anchor="end" font-weight="bold" letter-spacing="-0.5">-300</text>
<text x="1490.50" y="204.95" font-size="22.4" text-anchor="end" font-weight="bold" letter-spacing="-0.5">-200</text>
<text x="1490.50" y="115.23" font-size="22.4" text-anchor="end" font-weight="bold" letter-spacing="-0.5">-100</text>
<text x="1490.50" y="25.50" font-size="22.4" text-anchor="end" font-weight="bold" letter-spacing="-0.5">0</text>
<text x="1757.85" y="574.00" font-size="26.0" text-anchor="middle" font-weight="bold" letter-spacing="0.5">E (V vs RHE)</text>
<text x="1431.00" y="264.00" font-size="26.0" text-anchor="middle" font-weight="bold" letter-spacing="0.5" transform="rotate(-90 1431.00 264.00)">Formate current density (mA cm<tspan dy="-10.40" font-size="14.56">-2</tspan><tspan dy="10.40">)</tspan></text>
<path d="M1522 452.6H1535M1557 452.6H1569.6" stroke="#e07b1f" stroke-width="3.2" stroke-linecap="round"/>
<circle cx="1545.7" cy="452.6" r="8" fill="url(#gO)"/>
<text x="1575.40" y="462.00" font-size="24.9" font-weight="bold" letter-spacing="0.55">ZnIn<tspan dy="8.22" font-size="13.94">2</tspan><tspan dy="-8.22">S</tspan><tspan dy="8.22" font-size="13.94">4</tspan></text>
<path d="M1522 484H1535M1557 484H1569.6" stroke="#29abe2" stroke-width="3.2" stroke-linecap="round"/>
<circle cx="1545.7" cy="484.0" r="8" fill="url(#gB)"/>
<text x="1575.40" y="493.40" font-size="24.9" font-weight="bold" letter-spacing="0.55">In<tspan dy="8.22" font-size="13.94">2</tspan><tspan dy="-8.22">S</tspan><tspan dy="8.22" font-size="13.94">3</tspan></text>
<text x="1391.00" y="25.50" font-size="36.5" stroke="#000" stroke-width="0.9">c</text>
<path d="M218.0 888.5C220.1 884.2 226.1 870.8 230.6 862.6C235.1 854.4 240.2 846.0 245.0 839.1C249.8 832.2 254.6 826.5 259.4 821.1C264.2 815.7 269.0 810.9 273.8 806.7C278.6 802.5 282.8 799.4 288.2 795.9C293.6 792.4 300.2 788.8 306.2 785.8C312.2 782.8 318.2 780.1 324.2 777.9C330.2 775.7 336.2 774.0 342.2 772.5C348.2 771.0 354.3 769.9 360.3 768.9C366.3 767.9 372.3 767.2 378.3 766.7C384.3 766.2 390.3 765.8 396.3 765.6C402.3 765.4 408.3 765.2 414.3 765.3C420.3 765.4 426.3 765.6 432.3 766.0C438.3 766.4 444.3 766.8 450.3 767.4C456.3 768.0 462.3 768.6 468.3 769.6C474.3 770.6 480.3 771.7 486.3 773.2C492.3 774.7 499.0 776.4 504.4 778.6C509.8 780.8 514.6 783.3 518.8 786.2C523.0 789.1 526.3 792.2 529.6 795.9C532.9 799.6 535.6 802.8 538.6 808.5C541.6 814.2 544.6 821.1 547.6 830.1C550.6 839.1 553.3 850.6 556.6 862.6C559.9 874.6 564.1 889.6 567.4 902.2C570.7 914.8 574.9 932.2 576.4 938.2" stroke="#29abe2" stroke-width="3.2" fill="none"/>
<path d="M142.8 778.3C161.7 770.0 231.6 738.7 256.1 728.4C280.6 718.1 280.5 719.3 290.0 716.5C299.5 713.7 304.8 712.6 313.1 711.5C321.4 710.4 330.6 709.5 340.0 709.8C349.4 710.1 359.3 711.5 369.3 713.5C379.3 715.5 389.1 718.5 400.0 722.0C410.9 725.5 424.4 730.5 435.0 734.7C445.6 738.9 458.6 745.2 463.3 747.3" stroke="#e07b1f" stroke-width="3.2" fill="none"/>
<circle cx="142.8" cy="778.3" r="8" fill="url(#gO)"/>
<path d="M137.8 776.3h10M137.8 780.3h10M142.8 769.7V776.3M142.8 780.3V786.9" stroke="#000" stroke-width="1.7" fill="none"/>
<circle cx="256.1" cy="728.4" r="8" fill="url(#gO)"/>
<path d="M251.1 726.9h10M251.1 729.9h10M256.1 719.8V726.9M256.1 729.9V737.0" stroke="#000" stroke-width="1.7" fill="none"/>
<circle cx="313.1" cy="709.4" r="8" fill="url(#gO)"/>
<path d="M308.1 701.4h10M308.1 717.4h10M313.1 700.8V701.4M313.1 717.4V718.0" stroke="#000" stroke-width="1.7" fill="none"/>
<circle cx="369.3" cy="711.2" r="8" fill="url(#gO)"/>
<path d="M364.3 705.7h10M364.3 716.7h10M369.3 702.6V705.7M369.3 716.7V719.8" stroke="#000" stroke-width="1.7" fill="none"/>
<circle cx="435.0" cy="734.7" r="8" fill="url(#gO)"/>
<path d="M430.0 732.7h10M430.0 736.7h10M435.0 726.1V732.7M435.0 736.7V743.3" stroke="#000" stroke-width="1.7" fill="none"/>
<circle cx="463.3" cy="747.3" r="8" fill="url(#gO)"/>
<path d="M458.3 740.3h10M458.3 754.3h10M463.3 738.7V740.3M463.3 754.3V755.9" stroke="#000" stroke-width="1.7" fill="none"/>
<circle cx="218.3" cy="889.2" r="8" fill="url(#gB)"/>
<path d="M213.3 881.7h10M213.3 896.7h10M218.3 880.6V881.7M218.3 896.7V897.8" stroke="#000" stroke-width="1.7" fill="none"/>
<circle cx="274.9" cy="777.0" r="8" fill="url(#gB)"/>
<path d="M269.9 772.5h10M269.9 781.5h10M274.9 768.4V772.5M274.9 781.5V785.6" stroke="#000" stroke-width="1.7" fill="none"/>
<circle cx="416.5" cy="759.0" r="8" fill="url(#gB)"/>
<path d="M411.5 753.5h10M411.5 764.5h10M416.5 750.4V753.5M416.5 764.5V767.6" stroke="#000" stroke-width="1.7" fill="none"/>
<circle cx="529.6" cy="777.0" r="8" fill="url(#gB)"/>
<path d="M524.6 769.5h10M524.6 784.5h10M529.6 768.4V769.5M529.6 784.5V785.6" stroke="#000" stroke-width="1.7" fill="none"/>
<circle cx="548.5" cy="833.4" r="8" fill="url(#gB)"/>
<path d="M543.5 824.9h10M543.5 841.9h10M548.5 824.8V824.9M548.5 841.9V842.0" stroke="#000" stroke-width="1.7" fill="none"/>
<circle cx="576.8" cy="940.0" r="8" fill="url(#gB)"/>
<path d="M571.8 926.2h10M571.8 953.8h10M576.8 926.2V933.0M576.8 947.0V953.8" stroke="#000" stroke-width="1.7" fill="none"/>
<rect x="102.00" y="679.00" width="490.40" height="494.00" fill="none" stroke="#000" stroke-width="4.3"/>
<path d="M102.00 1173.00v8.00M196.31 1173.00v8.00M290.62 1173.00v8.00M384.92 1173.00v8.00M479.23 1173.00v8.00M573.54 1173.00v8.00M149.15 1173.00v4.20M243.46 1173.00v4.20M337.77 1173.00v4.20M432.08 1173.00v4.20M526.38 1173.00v4.20" stroke="#000" stroke-width="4.3" fill="none"/>
<path d="M102.00 1173.00h-8.00M102.00 1083.18h-8.00M102.00 993.36h-8.00M102.00 903.55h-8.00M102.00 813.73h-8.00M102.00 723.91h-8.00M102.00 1128.09h-4.20M102.00 1038.27h-4.20M102.00 948.45h-4.20M102.00 858.64h-4.20M102.00 768.82h-4.20M102.00 679.00h-4.20" stroke="#000" stroke-width="4.3" fill="none"/>
<text x="101.75" y="1203.50" font-size="22.4" text-anchor="middle" font-weight="bold" letter-spacing="-0.5">-0.9</text>
<text x="196.06" y="1203.50" font-size="22.4" text-anchor="middle" font-weight="bold" letter-spacing="-0.5">-1.0</text>
<text x="290.37" y="1203.50" font-size="22.4" text-anchor="middle" font-weight="bold" letter-spacing="-0.5">-1.1</text>
<text x="384.67" y="1203.50" font-size="22.4" text-anchor="middle" font-weight="bold" letter-spacing="-0.5">-1.2</text>
<text x="478.98" y="1203.50" font-size="22.4" text-anchor="middle" font-weight="bold" letter-spacing="-0.5">-1.3</text>
<text x="573.29" y="1203.50" font-size="22.4" text-anchor="middle" font-weight="bold" letter-spacing="-0.5">-1.4</text>
<text x="86.50" y="1181.00" font-size="22.4" text-anchor="end" font-weight="bold" letter-spacing="-0.5">0</text>
<text x="86.50" y="1091.18" font-size="22.4" text-anchor="end" font-weight="bold" letter-spacing="-0.5">10</text>
<text x="86.50" y="1001.36" font-size="22.4" text-anchor="end" font-weight="bold" letter-spacing="-0.5">20</text>
<text x="86.50" y="911.55" font-size="22.4" text-anchor="end" font-weight="bold" letter-spacing="-0.5">30</text>
<text x="86.50" y="821.73" font-size="22.4" text-anchor="end" font-weight="bold" letter-spacing="-0.5">40</text>
<text x="86.50" y="731.91" font-size="22.4" text-anchor="end" font-weight="bold" letter-spacing="-0.5">50</text>
<text x="353.25" y="1237.00" font-size="26.0" text-anchor="middle" font-weight="bold" letter-spacing="0.5">E (V vs RHE)</text>
<text x="36.00" y="926.00" font-size="26.0" text-anchor="middle" font-weight="bold" letter-spacing="0.5" transform="rotate(-90 36.00 926.00)">PCE (%)</text>
<path d="M439 1113.6H452.5M474 1113.6H486.7" stroke="#e07b1f" stroke-width="3.2" stroke-linecap="round"/>
<circle cx="462.8" cy="1113.6" r="8" fill="url(#gO)"/>
<text x="491.80" y="1123.00" font-size="24.9" font-weight="bold" letter-spacing="0.55">ZnIn<tspan dy="8.22" font-size="13.94">2</tspan><tspan dy="-8.22">S</tspan><tspan dy="8.22" font-size="13.94">4</tspan></text>
<path d="M439 1145.5H452.5M474 1145.5H486.7" stroke="#29abe2" stroke-width="3.2" stroke-linecap="round"/>
<circle cx="462.8" cy="1145.5" r="8" fill="url(#gB)"/>
<text x="491.80" y="1154.90" font-size="24.9" font-weight="bold" letter-spacing="0.55">In<tspan dy="8.22" font-size="13.94">2</tspan><tspan dy="-8.22">S</tspan><tspan dy="8.22" font-size="13.94">3</tspan></text>
<text x="0.00" y="690.50" font-size="36.5" stroke="#000" stroke-width="0.9">d</text>
<ellipse cx="866" cy="944" rx="45" ry="183" fill="#e6f5c9"/>
<ellipse cx="1097" cy="842" rx="227.5" ry="93" fill="#c6e8fd" transform="rotate(23.5 1097 842)"/>
<ellipse cx="1188" cy="760" rx="108" ry="20" fill="#fae6d0" transform="rotate(22.5 1188 760)"/>
<path d="M819.4 726.6H1107.3M819.4 766.6H1187.8M819.4 790.9H844.5M936.3 790.9H1266.7" stroke="#fa0008" stroke-width="2.5" stroke-dasharray="7.6 3.2" fill="none"/>
<path d="M1107.3 726.6V1177.3M1187.8 766.6V983.5M1187.8 1012V1177.3M1266.7 790.9V1177.3" stroke="#fa0008" stroke-width="2.5" stroke-dasharray="7.6 3.2" fill="none"/>
<rect x="843.6" y="776.1" width="11.5" height="11.5" fill="#000"/>
<polygon points="860.2,790.8 866.5,794.5 866.5,801.8 860.2,805.4 853.9,801.8 853.9,794.5" fill="#7b4f52"/>
<polygon points="930.4,713.5 938.9,722.0 930.4,730.5 921.9,722.0" fill="#3aa66a"/>
<polygon points="935.8,748.9 943.9,763.0 927.7,763.0" fill="#00c8c8"/>
<polygon points="948.4,790.2 956.0,795.7 953.1,804.7 943.7,804.7 940.8,795.7" fill="#1e6fdc"/>
<polygon points="889.0,821.7 897.1,835.8 880.9,835.8" fill="#1e6fdc"/>
<polygon points="844.0,856.4 851.2,861.7 848.5,870.1 839.5,870.1 836.8,861.7" fill="#8a8000"/>
<polygon points="863.1,872.5 849.0,880.6 849.0,864.4" fill="#00c8c8"/>
<circle cx="895.8" cy="873.7" r="6.8" fill="#f04040"/>
<circle cx="1002.4" cy="880" r="6.8" fill="#c8960a"/>
<polygon points="1047.3,836.9 1053.6,840.6 1053.6,847.9 1047.3,851.5 1041.0,847.9 1041.0,840.6" fill="#ff3eaa"/>
<polygon points="1252.3,856.7 1244.2,842.6 1260.4,842.6" fill="#7b4f52"/>
<rect x="1168.5" y="925.4" width="12" height="12" fill="#b07be0"/>
<polygon points="857.0,955.7 848.9,941.6 865.1,941.6" fill="#3aa66a"/>
<circle cx="858.4" cy="1012.2" r="6.8" fill="url(#gS)"/>
<polygon points="855.7,1054.4 862.0,1058.0 862.0,1065.4 855.7,1069.0 849.4,1065.4 849.4,1058.0" fill="#fff" stroke="#ff5a00" stroke-width="1.2"/>
<path d="M849.4 1061.7V1058.1L855.7 1054.4L862.0 1058.1V1061.7Z" fill="#ff5a00"/>
<polygon points="877.6,1102.8 886.1,1111.3 877.6,1119.8 869.1,1111.3" fill="#b07be0"/>
<polygon points="1107.3,717.3 1109.4,723.7 1116.1,723.7 1110.7,727.7 1112.8,734.1 1107.3,730.2 1101.8,734.1 1103.9,727.7 1098.5,723.7 1105.2,723.7" fill="#f00"/>
<polygon points="1187.8,757.3 1189.9,763.7 1196.6,763.7 1191.2,767.7 1193.3,774.1 1187.8,770.2 1182.3,774.1 1184.4,767.7 1179.0,763.7 1185.7,763.7" fill="#f00"/>
<polygon points="1266.7,781.6 1268.8,788.0 1275.5,788.0 1270.1,792.0 1272.2,798.4 1266.7,794.5 1261.2,798.4 1263.3,792.0 1257.9,788.0 1264.6,788.0" fill="#f00"/>
<text x="825.10" y="760.90" font-size="20.3">ref.36</text>
<text x="869.50" y="797.40" font-size="20.3">ref.37</text>
<text x="940.70" y="718.60" font-size="20.3">ref.21</text>
<text x="953.30" y="760.60" font-size="20.3">ref.32</text>
<text x="933.10" y="825.30" font-size="20.3">ref.20</text>
<text x="896.50" y="850.60" font-size="20.3">ref.16</text>
<text x="822.70" y="850.60" font-size="20.3">ref.14</text>
<text x="824.50" y="898.80" font-size="20.3">ref.38</text>
<text x="894.70" y="898.80" font-size="20.3">ref.39</text>
<text x="1015.80" y="891.10" font-size="20.3">ref.33</text>
<text x="1020.70" y="832.90" font-size="20.3">ref.34</text>
<text x="1218.80" y="874.00" font-size="20.3">ref.4</text>
<text x="1191.80" y="939.80" font-size="20.3">ref.19</text>
<text x="869.50" y="953.60" font-size="20.3">ref.40</text>
<text x="869.00" y="1017.60" font-size="20.3">ref.41</text>
<text x="868.50" y="1068.10" font-size="20.3">ref.42</text>
<text x="892.10" y="1117.30" font-size="20.3">ref.43</text>
<text x="839.00" y="1157.20" font-size="22.2" font-weight="bold" fill="#0f9410">H-type cell</text>
<text x="1166.40" y="1003.70" font-size="22.4" font-weight="bold" fill="#1e5aa0">Flow cell</text>
<text x="1079.40" y="708.60" font-size="22.3" font-weight="bold" fill="#f07a1e">This work in flow cell</text>
<rect x="819.40" y="683.00" width="491.00" height="494.30" fill="none" stroke="#000" stroke-width="4.3"/>
<path d="M841.72 1177.30v8.00M930.99 1177.30v8.00M1020.26 1177.30v8.00M1109.54 1177.30v8.00M1198.81 1177.30v8.00M1288.08 1177.30v8.00M886.35 1177.30v4.20M975.63 1177.30v4.20M1064.90 1177.30v4.20M1154.17 1177.30v4.20M1243.45 1177.30v4.20" stroke="#000" stroke-width="4.3" fill="none"/>
<path d="M819.40 1127.87h-8.00M819.40 1045.49h-8.00M819.40 963.10h-8.00M819.40 880.72h-8.00M819.40 798.34h-8.00M819.40 715.95h-8.00M819.40 1169.06h-4.20M819.40 1086.68h-4.20M819.40 1004.29h-4.20M819.40 921.91h-4.20M819.40 839.53h-4.20M819.40 757.14h-4.20" stroke="#000" stroke-width="4.3" fill="none"/>
<text x="841.47" y="1208.00" font-size="22.4" text-anchor="middle" font-weight="bold" letter-spacing="-0.5">0</text>
<text x="930.74" y="1208.00" font-size="22.4" text-anchor="middle" font-weight="bold" letter-spacing="-0.5">100</text>
<text x="1020.01" y="1208.00" font-size="22.4" text-anchor="middle" font-weight="bold" letter-spacing="-0.5">200</text>
<text x="1109.29" y="1208.00" font-size="22.4" text-anchor="middle" font-weight="bold" letter-spacing="-0.5">300</text>
<text x="1198.56" y="1208.00" font-size="22.4" text-anchor="middle" font-weight="bold" letter-spacing="-0.5">400</text>
<text x="1287.83" y="1208.00" font-size="22.4" text-anchor="middle" font-weight="bold" letter-spacing="-0.5">500</text>
<text x="805.50" y="1135.67" font-size="22.4" text-anchor="end" font-weight="bold" letter-spacing="-0.5">75</text>
<text x="805.50" y="1053.29" font-size="22.4" text-anchor="end" font-weight="bold" letter-spacing="-0.5">80</text>
<text x="805.50" y="970.90" font-size="22.4" text-anchor="end" font-weight="bold" letter-spacing="-0.5">85</text>
<text x="805.50" y="888.52" font-size="22.4" text-anchor="end" font-weight="bold" letter-spacing="-0.5">90</text>
<text x="805.50" y="806.14" font-size="22.4" text-anchor="end" font-weight="bold" letter-spacing="-0.5">95</text>
<text x="805.50" y="723.75" font-size="22.4" text-anchor="end" font-weight="bold" letter-spacing="-0.5">100</text>
<text x="1070.05" y="1240.50" font-size="26.0" text-anchor="middle" font-weight="bold" letter-spacing="0.5">Formate current density (mA cm<tspan dy="-10.40" font-size="14.56">-2</tspan><tspan dy="10.40">)</tspan></text>
<text x="746.50" y="925.70" font-size="26.0" text-anchor="middle" font-weight="bold" letter-spacing="0.5" transform="rotate(-90 746.50 925.70)">Formate Faradaic efficiency (%)</text>
<text x="682.50" y="690.00" font-size="36.5" stroke="#000" stroke-width="0.9">e</text>
<defs><linearGradient id="fb0" x1="0" y1="0" x2="0" y2="1"><stop offset="0" stop-color="#000000"/><stop offset="0.15" stop-color="#000000"/><stop offset="1" stop-color="#d2d2d2"/></linearGradient><linearGradient id="fb1" x1="0" y1="0" x2="0" y2="1"><stop offset="0" stop-color="#f84444"/><stop offset="0.15" stop-color="#f84444"/><stop offset="1" stop-color="#ffa4a4"/></linearGradient><linearGradient id="fb2" x1="0" y1="0" x2="0" y2="1"><stop offset="0" stop-color="#1f5252"/><stop offset="0.15" stop-color="#1f5252"/><stop offset="1" stop-color="#b2ebeb"/></linearGradient><linearGradient id="fb3" x1="0" y1="0" x2="0" y2="1"><stop offset="0" stop-color="#009100"/><stop offset="0.15" stop-color="#009100"/><stop offset="1" stop-color="#a0ffa0"/></linearGradient><linearGradient id="fb4" x1="0" y1="0" x2="0" y2="1"><stop offset="0" stop-color="#8000ff"/><stop offset="0.15" stop-color="#8000ff"/><stop offset="1" stop-color="#cc9cff"/></linearGradient><linearGradient id="fb5" x1="0" y1="0" x2="0" y2="1"><stop offset="0" stop-color="#ff3ea0"/><stop offset="0.15" stop-color="#ff3ea0"/><stop offset="1" stop-color="#ff9ccc"/></linearGradient><linearGradient id="fb6" x1="0" y1="0" x2="0" y2="1"><stop offset="0" stop-color="#8b1010"/><stop offset="0.15" stop-color="#8b1010"/><stop offset="1" stop-color="#eaa4a4"/></linearGradient><linearGradient id="fb7" x1="0" y1="0" x2="0" y2="1"><stop offset="0" stop-color="#1060c0"/><stop offset="0.15" stop-color="#1060c0"/><stop offset="1" stop-color="#aaccf4"/></linearGradient><linearGradient id="fb8" x1="0" y1="0" x2="0" y2="1"><stop offset="0" stop-color="#f08020"/><stop offset="0.15" stop-color="#f08020"/><stop offset="1" stop-color="#f8caa4"/></linearGradient><linearGradient id="fb9" x1="0" y1="0" x2="0" y2="1"><stop offset="0" stop-color="#a00058"/><stop offset="0.15" stop-color="#a00058"/><stop offset="1" stop-color="#ff9cd4"/></linearGradient><linearGradient id="fb10" x1="0" y1="0" x2="0" y2="1"><stop offset="0" stop-color="#000080"/><stop offset="0.15" stop-color="#000080"/><stop offset="1" stop-color="#a4a4ff"/></linearGradient><linearGradient id="fb11" x1="0" y1="0" x2="0" y2="1"><stop offset="0" stop-color="#a8b030"/><stop offset="0.15" stop-color="#a8b030"/><stop offset="1" stop-color="#eaecaa"/></linearGradient><linearGradient id="fb12" x1="0" y1="0" x2="0" y2="1"><stop offset="0" stop-color="#ff0000"/><stop offset="0.15" stop-color="#ff0000"/><stop offset="1" stop-color="#ff9c9c"/></linearGradient></defs>
<rect x="1505.5" y="683.6" width="117" height="493" fill="#eff1f0"/>
<rect x="1622.5" y="683.6" width="372" height="493" fill="#fcfbe8"/>
<rect x="1521" y="1139.1" width="27" height="37.4" fill="url(#fb0)" stroke="#3a3a3a" stroke-width="0.9"/>
<text x="1539.70" y="1134.60" font-size="20.1" font-weight="bold" transform="rotate(-90 1539.70 1134.60)">In-In<tspan dy="6.63" font-size="11.26">2</tspan><tspan dy="-6.63">S</tspan><tspan dy="6.63" font-size="11.26">3</tspan></text>
<rect x="1557" y="1127.1" width="27" height="49.4" fill="url(#fb1)" stroke="#3a3a3a" stroke-width="0.9"/>
<text x="1575.70" y="1120.20" font-size="20.1" font-weight="bold" fill="#f84848" transform="rotate(-90 1575.70 1120.20)">S-In<tspan dy="6.63" font-size="11.26">2</tspan><tspan dy="-6.63">O</tspan><tspan dy="6.63" font-size="11.26">3</tspan></text>
<rect x="1593.4" y="1120.2" width="27" height="56.3" fill="url(#fb2)" stroke="#3a3a3a" stroke-width="0.9"/>
<text x="1612.10" y="1113.60" font-size="20.1" font-weight="bold" fill="#206060" transform="rotate(-90 1612.10 1113.60)">Hp-In</text>
<rect x="1629.4" y="1109.4" width="27" height="67.1" fill="url(#fb3)" stroke="#3a3a3a" stroke-width="0.9"/>
<text x="1648.10" y="1101.30" font-size="20.1" font-weight="bold" fill="#109010" transform="rotate(-90 1648.10 1101.30)">N-Sn(S)</text>
<rect x="1665.4" y="1078.3" width="27" height="98.2" fill="url(#fb4)" stroke="#3a3a3a" stroke-width="0.9"/>
<text x="1684.10" y="1069.80" font-size="20.1" font-weight="bold" fill="#8000ff" transform="rotate(-90 1684.10 1069.80)">SnO<tspan dy="6.63" font-size="11.26">2</tspan><tspan dy="-6.63"> NP</tspan></text>
<rect x="1702.1" y="1084.7" width="27" height="91.8" fill="url(#fb5)" stroke="#3a3a3a" stroke-width="0.9"/>
<text x="1720.80" y="1077.00" font-size="20.1" font-weight="bold" fill="#ff3ea0" transform="rotate(-90 1720.80 1077.00)">Bi-ene</text>
<rect x="1738.5" y="1079.3" width="27" height="97.2" fill="url(#fb6)" stroke="#3a3a3a" stroke-width="0.9"/>
<text x="1757.20" y="1073.00" font-size="20.1" font-weight="bold" fill="#8b1010" transform="rotate(-90 1757.20 1073.00)">S-BiVO<tspan dy="6.63" font-size="11.26">4</tspan></text>
<rect x="1774.5" y="1066.7" width="27" height="109.8" fill="url(#fb7)" stroke="#3a3a3a" stroke-width="0.9"/>
<text x="1793.20" y="1058.60" font-size="20.1" font-weight="bold" fill="#1060e0" transform="rotate(-90 1793.20 1058.60)">Bi<tspan dy="6.63" font-size="11.26">2</tspan><tspan dy="-6.63">O</tspan><tspan dy="6.63" font-size="11.26">3</tspan><tspan dy="-6.63"> NT</tspan></text>
<rect x="1810.7" y="1011.2" width="27" height="165.3" fill="url(#fb8)" stroke="#3a3a3a" stroke-width="0.9"/>
<text x="1829.40" y="1002.20" font-size="20.1" font-weight="bold" fill="#f08020" transform="rotate(-90 1829.40 1002.20)">BiOBr</text>
<rect x="1847.1" y="964.8" width="27" height="211.7" fill="url(#fb9)" stroke="#3a3a3a" stroke-width="0.9"/>
<text x="1865.80" y="956.30" font-size="20.1" font-weight="bold" fill="#a00058" transform="rotate(-90 1865.80 956.30)">Bi@Sn</text>
<rect x="1883.2" y="833.7" width="27" height="342.8" fill="url(#fb10)" stroke="#3a3a3a" stroke-width="0.9"/>
<text x="1901.90" y="828.00" font-size="20.1" font-weight="bold" fill="#000080" transform="rotate(-90 1901.90 828.00)">Bi NSs</text>
<rect x="1919.5" y="753.6" width="27" height="422.9" fill="url(#fb11)" stroke="#3a3a3a" stroke-width="0.9"/>
<rect x="1955.5" y="738.3" width="27" height="438.2" fill="url(#fb12)" stroke="#3a3a3a" stroke-width="0.9"/>
<text x="1830.00" y="750.90" font-size="20.1" font-weight="bold" fill="#a0b020">nBuLi-Bi</text>
<text x="1896.20" y="718.50" font-size="20.1" font-weight="bold" fill="#d00000">This work</text>
<rect x="1505.50" y="683.60" width="489.20" height="492.90" fill="none" stroke="#000" stroke-width="4.3"/>
<path d="M1505.50 1176.50h-8.00M1505.50 1077.92h-8.00M1505.50 979.34h-8.00M1505.50 880.76h-8.00M1505.50 782.18h-8.00M1505.50 683.60h-8.00M1505.50 1127.21h-4.20M1505.50 1028.63h-4.20M1505.50 930.05h-4.20M1505.50 831.47h-4.20M1505.50 732.89h-4.20" stroke="#000" stroke-width="4.3" fill="none"/>
<text x="1490.50" y="1184.30" font-size="22.4" text-anchor="end" font-weight="bold" letter-spacing="-0.5">0</text>
<text x="1490.50" y="1085.72" font-size="22.4" text-anchor="end" font-weight="bold" letter-spacing="-0.5">2000</text>
<text x="1490.50" y="987.14" font-size="22.4" text-anchor="end" font-weight="bold" letter-spacing="-0.5">4000</text>
<text x="1490.50" y="888.56" font-size="22.4" text-anchor="end" font-weight="bold" letter-spacing="-0.5">6000</text>
<text x="1490.50" y="789.98" font-size="22.4" text-anchor="end" font-weight="bold" letter-spacing="-0.5">8000</text>
<text x="1490.50" y="691.40" font-size="22.4" text-anchor="end" font-weight="bold" letter-spacing="-0.5">10000</text>
<text x="1508.30" y="1205.90" font-size="26.0" font-weight="bold" letter-spacing="0.5">H-type cell</text>
<text x="1766.90" y="1210.40" font-size="26.0" font-weight="bold" letter-spacing="0.5">Flow cell</text>
<text x="1420.50" y="929.00" font-size="26.0" text-anchor="middle" font-weight="bold" letter-spacing="0.5" transform="rotate(-90 1420.50 929.00)">Formate production rate (μmol cm<tspan dy="-10.40" font-size="14.56">-2</tspan><tspan dy="10.40"> h</tspan><tspan dy="-10.40" font-size="14.56">-1</tspan><tspan dy="10.40">)</tspan></text>
<text x="1375.50" y="690.00" font-size="36.5" stroke="#000" stroke-width="0.9">f</text>
<defs>
<linearGradient id="barO" x1="0" y1="0" x2="1" y2="0"><stop offset="0" stop-color="#e8a25c"/><stop offset="0.12" stop-color="#e09345"/><stop offset="0.42" stop-color="#b65e10"/><stop offset="0.62" stop-color="#bd6516"/><stop offset="0.88" stop-color="#e09345"/><stop offset="1" stop-color="#e8a25c"/></linearGradient>
<linearGradient id="barB" x1="0" y1="0" x2="1" y2="0"><stop offset="0" stop-color="#2fb0e6"/><stop offset="0.3" stop-color="#1f9fd5"/><stop offset="0.6" stop-color="#0d6f99"/><stop offset="0.85" stop-color="#11789f"/><stop offset="1" stop-color="#1c94c6"/></linearGradient>
</defs>
<path d="M111.5 2117.0L500 2027.4L1000 1912.8L1497 1796.5L1901 1700L1901 2117.0Z" fill="#f2f2f2"/>
<rect x="121.8" y="2108.7" width="12.4" height="8.3" fill="url(#barB)"/>
<rect x="121.8" y="2108.7" width="12.4" height="2" fill="#3ab6ea"/>
<rect x="151.3" y="2103.0" width="12.4" height="14.0" fill="url(#barB)"/>
<rect x="151.3" y="2103.0" width="12.4" height="2" fill="#3ab6ea"/>
<rect x="180.8" y="2097.0" width="12.4" height="20.0" fill="url(#barB)"/>
<rect x="180.8" y="2097.0" width="12.4" height="2" fill="#3ab6ea"/>
<rect x="210.2" y="2091.5" width="12.4" height="25.5" fill="url(#barB)"/>
<rect x="210.2" y="2091.5" width="12.4" height="2" fill="#3ab6ea"/>
<rect x="239.7" y="2087.5" width="12.4" height="29.5" fill="url(#barB)"/>
<rect x="239.7" y="2087.5" width="12.4" height="2" fill="#3ab6ea"/>
<rect x="269.1" y="2083.6" width="12.4" height="33.4" fill="url(#barB)"/>
<rect x="269.1" y="2083.6" width="12.4" height="2" fill="#3ab6ea"/>
<rect x="298.5" y="2080.6" width="12.4" height="36.4" fill="url(#barB)"/>
<rect x="298.5" y="2080.6" width="12.4" height="2" fill="#3ab6ea"/>
<rect x="328.0" y="2078.4" width="12.4" height="38.6" fill="url(#barB)"/>
<rect x="328.0" y="2078.4" width="12.4" height="2" fill="#3ab6ea"/>
<rect x="134.0" y="2108.7" width="15" height="8.3" fill="url(#barO)"/>
<rect x="134.0" y="2108.7" width="15" height="2.2" fill="#e59b50"/>
<rect x="163.5" y="2101.9" width="15" height="15.1" fill="url(#barO)"/>
<rect x="163.5" y="2101.9" width="15" height="2.2" fill="#e59b50"/>
<rect x="192.9" y="2095.1" width="15" height="21.9" fill="url(#barO)"/>
<rect x="192.9" y="2095.1" width="15" height="2.2" fill="#e59b50"/>
<rect x="222.4" y="2089.4" width="15" height="27.6" fill="url(#barO)"/>
<rect x="222.4" y="2089.4" width="15" height="2.2" fill="#e59b50"/>
<rect x="251.8" y="2081.4" width="15" height="35.6" fill="url(#barO)"/>
<rect x="251.8" y="2081.4" width="15" height="2.2" fill="#e59b50"/>
<rect x="281.3" y="2076.0" width="15" height="41.0" fill="url(#barO)"/>
<rect x="281.3" y="2076.0" width="15" height="2.2" fill="#e59b50"/>
<rect x="310.8" y="2069.7" width="15" height="47.3" fill="url(#barO)"/>
<rect x="310.8" y="2069.7" width="15" height="2.2" fill="#e59b50"/>
<rect x="340.2" y="2060.2" width="15" height="56.8" fill="url(#barO)"/>
<rect x="340.2" y="2060.2" width="15" height="2.2" fill="#e59b50"/>
<rect x="369.7" y="2055.2" width="15" height="61.8" fill="url(#barO)"/>
<rect x="369.7" y="2055.2" width="15" height="2.2" fill="#e59b50"/>
<rect x="399.1" y="2045.7" width="15" height="71.3" fill="url(#barO)"/>
<rect x="399.1" y="2045.7" width="15" height="2.2" fill="#e59b50"/>
<rect x="428.6" y="2039.1" width="15" height="77.9" fill="url(#barO)"/>
<rect x="428.6" y="2039.1" width="15" height="2.2" fill="#e59b50"/>
<rect x="458.0" y="2032.0" width="15" height="85.0" fill="url(#barO)"/>
<rect x="458.0" y="2032.0" width="15" height="2.2" fill="#e59b50"/>
<rect x="693.6" y="1976.4" width="15" height="140.6" fill="url(#barO)"/>
<rect x="693.6" y="1976.4" width="15" height="2.2" fill="#e59b50"/>
<rect x="811.4" y="1947.4" width="15" height="169.6" fill="url(#barO)"/>
<rect x="811.4" y="1947.4" width="15" height="2.2" fill="#e59b50"/>
<rect x="870.3" y="1936.2" width="15" height="180.8" fill="url(#barO)"/>
<rect x="870.3" y="1936.2" width="15" height="2.2" fill="#e59b50"/>
<rect x="899.8" y="1928.6" width="15" height="188.4" fill="url(#barO)"/>
<rect x="899.8" y="1928.6" width="15" height="2.2" fill="#e59b50"/>
<rect x="929.2" y="1922.3" width="15" height="194.7" fill="url(#barO)"/>
<rect x="929.2" y="1922.3" width="15" height="2.2" fill="#e59b50"/>
<rect x="958.6" y="1915.5" width="15" height="201.5" fill="url(#barO)"/>
<rect x="958.6" y="1915.5" width="15" height="2.2" fill="#e59b50"/>
<rect x="988.1" y="1909.0" width="15" height="208.0" fill="url(#barO)"/>
<rect x="988.1" y="1909.0" width="15" height="2.2" fill="#e59b50"/>
<rect x="1017.5" y="1901.9" width="15" height="215.1" fill="url(#barO)"/>
<rect x="1017.5" y="1901.9" width="15" height="2.2" fill="#e59b50"/>
<rect x="1047.0" y="1894.2" width="15" height="222.8" fill="url(#barO)"/>
<rect x="1047.0" y="1894.2" width="15" height="2.2" fill="#e59b50"/>
<rect x="1076.4" y="1890.9" width="15" height="226.1" fill="url(#barO)"/>
<rect x="1076.4" y="1890.9" width="15" height="2.2" fill="#e59b50"/>
<rect x="1135.3" y="1877.6" width="15" height="239.4" fill="url(#barO)"/>
<rect x="1135.3" y="1877.6" width="15" height="2.2" fill="#e59b50"/>
<rect x="1164.8" y="1872.4" width="15" height="244.6" fill="url(#barO)"/>
<rect x="1164.8" y="1872.4" width="15" height="2.2" fill="#e59b50"/>
<rect x="1194.2" y="1861.5" width="15" height="255.5" fill="url(#barO)"/>
<rect x="1194.2" y="1861.5" width="15" height="2.2" fill="#e59b50"/>
<rect x="1223.7" y="1857.6" width="15" height="259.4" fill="url(#barO)"/>
<rect x="1223.7" y="1857.6" width="15" height="2.2" fill="#e59b50"/>
<rect x="1459.3" y="1804.1" width="15" height="312.9" fill="url(#barO)"/>
<rect x="1459.3" y="1804.1" width="15" height="2.2" fill="#e59b50"/>
<rect x="1488.7" y="1797.0" width="15" height="320.0" fill="url(#barO)"/>
<rect x="1488.7" y="1797.0" width="15" height="2.2" fill="#e59b50"/>
<rect x="1518.2" y="1787.5" width="15" height="329.5" fill="url(#barO)"/>
<rect x="1518.2" y="1787.5" width="15" height="2.2" fill="#e59b50"/>
<rect x="1606.5" y="1767.0" width="15" height="350.0" fill="url(#barO)"/>
<rect x="1606.5" y="1767.0" width="15" height="2.2" fill="#e59b50"/>
<rect x="1636.0" y="1760.2" width="15" height="356.8" fill="url(#barO)"/>
<rect x="1636.0" y="1760.2" width="15" height="2.2" fill="#e59b50"/>
<rect x="1665.4" y="1752.3" width="15" height="364.7" fill="url(#barO)"/>
<rect x="1665.4" y="1752.3" width="15" height="2.2" fill="#e59b50"/>
<rect x="1694.9" y="1746.6" width="15" height="370.4" fill="url(#barO)"/>
<rect x="1694.9" y="1746.6" width="15" height="2.2" fill="#e59b50"/>
<rect x="1724.3" y="1741.1" width="15" height="375.9" fill="url(#barO)"/>
<rect x="1724.3" y="1741.1" width="15" height="2.2" fill="#e59b50"/>
<rect x="1753.8" y="1734.0" width="15" height="383.0" fill="url(#barO)"/>
<rect x="1753.8" y="1734.0" width="15" height="2.2" fill="#e59b50"/>
<rect x="1783.2" y="1727.2" width="15" height="389.8" fill="url(#barO)"/>
<rect x="1783.2" y="1727.2" width="15" height="2.2" fill="#e59b50"/>
<rect x="1842.1" y="1714.9" width="15" height="402.1" fill="url(#barO)"/>
<rect x="1842.1" y="1714.9" width="15" height="2.2" fill="#e59b50"/>
<rect x="1871.6" y="1708.4" width="15" height="408.6" fill="url(#barO)"/>
<rect x="1871.6" y="1708.4" width="15" height="2.2" fill="#e59b50"/>
<path d="M140.6 1678.3C144.0 1676.6 163.0 1665.3 169.8 1664.1C176.6 1662.9 192.3 1666.1 199.2 1668.2C206.1 1670.3 221.9 1682.3 228.7 1681.9C235.5 1681.5 251.1 1665.3 257.9 1664.7C264.7 1664.1 280.6 1674.2 287.4 1676.4C294.2 1678.6 309.8 1685.1 316.6 1683.2C323.4 1681.3 339.2 1661.1 346.1 1660.0C353.0 1658.9 369.2 1674.3 376.1 1673.7C383.0 1673.1 398.5 1656.4 405.3 1654.6C412.1 1652.8 427.7 1657.7 434.5 1657.9C441.3 1658.1 433.0 1656.4 464.0 1656.0C495.0 1655.6 658.6 1654.9 699.8 1654.6C741.0 1654.3 796.5 1652.4 817.1 1653.2C837.7 1654.0 865.8 1662.0 876.1 1661.4C886.4 1660.8 899.0 1648.1 905.8 1647.8C912.6 1647.5 928.0 1657.7 934.8 1659.2C941.6 1660.7 957.6 1659.9 964.5 1660.6C971.4 1661.3 987.2 1663.2 994.0 1665.5C1000.8 1667.8 1016.4 1681.8 1023.2 1680.5C1030.0 1679.2 1045.8 1654.4 1052.7 1654.6C1059.6 1654.8 1072.1 1678.8 1082.4 1681.9C1092.7 1685.0 1130.8 1680.2 1141.1 1680.8C1151.4 1681.4 1163.7 1689.0 1170.6 1687.3C1177.5 1685.6 1193.2 1667.0 1200.0 1666.0C1206.8 1665.0 1198.4 1677.3 1229.3 1678.6C1260.2 1679.9 1433.9 1677.5 1464.8 1677.2C1495.7 1676.9 1487.2 1677.5 1494.0 1676.4C1500.8 1675.3 1509.7 1668.8 1523.5 1667.4C1537.3 1666.0 1598.5 1664.8 1612.2 1664.7C1625.9 1664.6 1634.3 1667.8 1641.1 1666.3C1647.9 1664.8 1664.0 1651.7 1670.9 1651.9C1677.8 1652.1 1693.5 1664.4 1700.3 1667.7C1707.1 1671.0 1722.7 1679.0 1729.5 1680.0C1736.3 1681.0 1752.1 1676.6 1759.0 1675.9C1765.9 1675.2 1778.2 1673.2 1788.5 1673.7C1798.8 1674.2 1837.4 1679.9 1847.7 1680.5C1858.0 1681.1 1873.5 1679.3 1876.9 1679.1" stroke="#f4a765" stroke-width="4.2" fill="none" stroke-linejoin="round"/>
<path d="M140.6 1696.9C144.0 1697.6 163.0 1699.2 169.8 1703.2C176.6 1707.2 192.3 1724.5 199.2 1731.6C206.1 1738.7 221.9 1752.1 228.7 1763.8C235.5 1775.5 251.1 1819.3 257.9 1832.0C264.7 1844.7 280.6 1863.5 287.4 1872.4C294.2 1881.3 309.8 1895.8 316.6 1908.4C323.4 1921.0 342.7 1972.1 346.1 1980.5" stroke="#29abe2" stroke-width="4.4" fill="none"/>
<path d="M179.2 2051.7L189.8 2036.7M213.1 2014.7L214.8 2013.6M235.3 1990.0L251.3 1953.7M269.0 1926.7L276.3 1918.8M295.2 1892.4L308.8 1867.4M320.5 1837.1L342.2 1746.9" stroke="#29abe2" stroke-width="4.4" fill="none" stroke-linecap="round"/>
<circle cx="140.6" cy="2079.3" r="9.8" fill="#fff" stroke="#0a6e9a" stroke-width="3.8"/>
<circle cx="169.8" cy="2065.1" r="9.8" fill="#fff" stroke="#0a6e9a" stroke-width="3.8"/>
<circle cx="199.2" cy="2023.3" r="9.8" fill="#fff" stroke="#0a6e9a" stroke-width="3.8"/>
<circle cx="228.7" cy="2005" r="9.8" fill="#fff" stroke="#0a6e9a" stroke-width="3.8"/>
<circle cx="257.9" cy="1938.7" r="9.8" fill="#fff" stroke="#0a6e9a" stroke-width="3.8"/>
<circle cx="287.4" cy="1906.8" r="9.8" fill="#fff" stroke="#0a6e9a" stroke-width="3.8"/>
<circle cx="316.6" cy="1853" r="9.8" fill="#fff" stroke="#0a6e9a" stroke-width="3.8"/>
<circle cx="346.1" cy="1731" r="9.8" fill="#fff" stroke="#0a6e9a" stroke-width="3.8"/>
<circle cx="140.6" cy="1696.9" r="12.1" fill="url(#gB2)"/>
<circle cx="169.8" cy="1703.2" r="12.1" fill="url(#gB2)"/>
<circle cx="199.2" cy="1731.6" r="12.1" fill="url(#gB2)"/>
<circle cx="228.7" cy="1763.8" r="12.1" fill="url(#gB2)"/>
<circle cx="257.9" cy="1832.0" r="12.1" fill="url(#gB2)"/>
<circle cx="287.4" cy="1872.4" r="12.1" fill="url(#gB2)"/>
<circle cx="316.6" cy="1908.4" r="12.1" fill="url(#gB2)"/>
<circle cx="346.1" cy="1980.5" r="12.1" fill="url(#gB2)"/>
<circle cx="140.6" cy="1678.3" r="12.1" fill="url(#gO2)"/>
<circle cx="169.8" cy="1664.1" r="12.1" fill="url(#gO2)"/>
<circle cx="199.2" cy="1668.2" r="12.1" fill="url(#gO2)"/>
<circle cx="228.7" cy="1681.9" r="12.1" fill="url(#gO2)"/>
<circle cx="257.9" cy="1664.7" r="12.1" fill="url(#gO2)"/>
<circle cx="287.4" cy="1676.4" r="12.1" fill="url(#gO2)"/>
<circle cx="316.6" cy="1683.2" r="12.1" fill="url(#gO2)"/>
<circle cx="346.1" cy="1660.0" r="12.1" fill="url(#gO2)"/>
<circle cx="376.1" cy="1673.7" r="12.1" fill="url(#gO2)"/>
<circle cx="405.3" cy="1654.6" r="12.1" fill="url(#gO2)"/>
<circle cx="434.5" cy="1657.9" r="12.1" fill="url(#gO2)"/>
<circle cx="464.0" cy="1656.0" r="12.1" fill="url(#gO2)"/>
<circle cx="699.8" cy="1654.6" r="12.1" fill="url(#gO2)"/>
<circle cx="817.1" cy="1653.2" r="12.1" fill="url(#gO2)"/>
<circle cx="876.1" cy="1661.4" r="12.1" fill="url(#gO2)"/>
<circle cx="905.8" cy="1647.8" r="12.1" fill="url(#gO2)"/>
<circle cx="934.8" cy="1659.2" r="12.1" fill="url(#gO2)"/>
<circle cx="964.5" cy="1660.6" r="12.1" fill="url(#gO2)"/>
<circle cx="994.0" cy="1665.5" r="12.1" fill="url(#gO2)"/>
<circle cx="1023.2" cy="1680.5" r="12.1" fill="url(#gO2)"/>
<circle cx="1052.7" cy="1654.6" r="12.1" fill="url(#gO2)"/>
<circle cx="1082.4" cy="1681.9" r="12.1" fill="url(#gO2)"/>
<circle cx="1141.1" cy="1680.8" r="12.1" fill="url(#gO2)"/>
<circle cx="1170.6" cy="1687.3" r="12.1" fill="url(#gO2)"/>
<circle cx="1200.0" cy="1666.0" r="12.1" fill="url(#gO2)"/>
<circle cx="1229.3" cy="1678.6" r="12.1" fill="url(#gO2)"/>
<circle cx="1464.8" cy="1677.2" r="12.1" fill="url(#gO2)"/>
<circle cx="1494.0" cy="1676.4" r="12.1" fill="url(#gO2)"/>
<circle cx="1523.5" cy="1667.4" r="12.1" fill="url(#gO2)"/>
<circle cx="1612.2" cy="1664.7" r="12.1" fill="url(#gO2)"/>
<circle cx="1641.1" cy="1666.3" r="12.1" fill="url(#gO2)"/>
<circle cx="1670.9" cy="1651.9" r="12.1" fill="url(#gO2)"/>
<circle cx="1700.3" cy="1667.7" r="12.1" fill="url(#gO2)"/>
<circle cx="1729.5" cy="1680.0" r="12.1" fill="url(#gO2)"/>
<circle cx="1759.0" cy="1675.9" r="12.1" fill="url(#gO2)"/>
<circle cx="1788.5" cy="1673.7" r="12.1" fill="url(#gO2)"/>
<circle cx="1847.7" cy="1680.5" r="12.1" fill="url(#gO2)"/>
<circle cx="1876.9" cy="1679.1" r="12.1" fill="url(#gO2)"/>
<path d="M334.0 1725.8H279.4V1718.6L257.4 1729.6L279.4 1740.6V1733.3H334.0Z" fill="#1a96c8"/>
<text x="379.40" y="1742.00" font-size="29" fill="#0a6e9a">H<tspan dy="9.57" font-size="16.24">2</tspan><tspan dy="-9.57"> FE</tspan></text>
<path d="M334.0 1977.2H277.2V1970.0L255.2 1981.0L277.2 1992.0V1984.8H334.0Z" fill="#1a96c8"/>
<text x="376.10" y="1990.60" font-size="28" fill="#0a6e9a">HCOO<tspan dy="-11.20" font-size="15.68">-</tspan><tspan dy="11.20"> FE</tspan></text>
<text x="648.70" y="1724.70" font-size="28" fill="#b85c0a">HCOO<tspan dy="-11.20" font-size="15.68">-</tspan><tspan dy="11.20"> FE</tspan></text>
<path d="M871.3 1684.6H879.3V1714.5H815.8V1721.5L790.7 1710.5L815.8 1699.5V1706.5H871.3Z" fill="#b85c0a"/>
<path d="M1227.4 1858V1827.2H1291.2V1820.2L1316.6 1831.2L1291.2 1842.2V1835.2H1235.4V1858Z" fill="#b85c0a"/>
<path d="M112.4 1492.0L113.3 1491.2L114.2 1490.4L115.1 1494.0L116.0 1493.3L116.8 1490.0L117.6 1492.5L118.4 1490.8L119.3 1488.3L120.1 1490.6L120.9 1490.5L121.7 1487.4L122.5 1489.8L123.4 1487.3L124.2 1487.3L125.0 1489.3L125.8 1491.7L126.6 1487.1L127.5 1487.6L128.3 1489.2L129.1 1489.6L129.9 1491.3L130.7 1488.5L131.6 1486.9L132.4 1490.2L133.2 1483.9L134.0 1488.7L134.8 1484.6L135.6 1483.3L136.5 1485.1L137.4 1482.2L138.3 1483.0L139.2 1485.8L140.1 1481.3L141.0 1483.4L141.9 1482.4L142.9 1489.4L143.8 1494.7L144.7 1487.1L145.5 1481.0L146.4 1480.0L147.4 1478.3L148.3 1476.2L149.2 1476.9L150.1 1478.5L151.0 1482.2L151.9 1481.3L152.8 1482.4L153.7 1481.7L154.7 1483.9L155.6 1483.5L156.5 1483.0L157.4 1486.6L158.3 1485.1L159.4 1496.9L160.5 1484.3L161.3 1485.1L162.1 1481.7L162.9 1483.4L163.8 1482.4L164.8 1488.7L165.9 1494.7L167.3 1485.1L168.1 1487.5L168.9 1486.6L169.8 1483.8L170.6 1485.1L171.4 1491.6L172.2 1489.5L173.0 1494.9L173.9 1498.8L174.8 1500.6L175.6 1497.0L176.5 1499.3L177.4 1496.6L178.3 1500.8L179.2 1501.7L180.1 1500.2L181.2 1493.8L182.3 1486.5L183.2 1488.3L184.0 1484.1L184.9 1486.0L185.7 1484.5L186.6 1483.9L187.5 1482.8L188.3 1482.4L189.2 1483.7L190.0 1484.0L190.8 1482.0L191.7 1482.6L192.5 1480.1L193.4 1482.6L194.2 1482.3L195.0 1483.5L195.9 1482.8L196.7 1480.5L197.6 1480.8L198.4 1481.8L199.2 1481.0L200.1 1478.6L200.9 1479.8L201.7 1478.1L202.5 1477.3L203.3 1478.3L204.1 1476.6L205.0 1479.4L205.8 1476.8L206.6 1477.3L207.4 1478.3L208.3 1478.0L209.1 1480.0L209.9 1477.0L210.8 1478.5L211.6 1479.0L212.5 1480.5L213.3 1480.3L214.1 1480.6L215.0 1478.4L215.8 1479.0L216.7 1478.9L217.5 1481.1L218.3 1479.7L219.2 1481.5L220.0 1478.3L220.9 1478.4L221.7 1478.6L222.5 1478.6L223.4 1479.6L224.2 1480.0L225.1 1478.7L225.9 1477.7L226.7 1479.4L227.6 1479.2L228.4 1479.9L229.3 1479.7L230.1 1480.7L230.9 1478.8L231.7 1477.3L232.5 1476.9L233.4 1475.6L234.3 1470.8L235.2 1462.9L236.1 1459.2L237.0 1459.4L237.9 1457.6L238.7 1456.6L239.6 1453.8L240.5 1456.8L241.4 1457.0L242.4 1459.2L243.7 1478.3L244.5 1478.0L245.4 1476.9L246.2 1479.0L247.0 1476.8L247.8 1476.9L248.6 1477.5L249.5 1477.4L250.3 1478.2L251.1 1478.9L251.9 1477.0L252.8 1476.7L253.7 1477.3L254.5 1477.0L255.4 1478.0L256.2 1476.6L257.1 1479.9L257.9 1478.3L259.0 1463.3L260.1 1490.6L261.5 1478.3L262.3 1478.8L263.1 1476.9L263.9 1477.3L264.7 1477.7L265.6 1477.8L266.4 1476.8L267.2 1479.7L268.0 1480.3L268.8 1478.2L269.7 1478.3L270.5 1476.7L271.3 1476.7L272.1 1477.7L272.9 1478.3L273.8 1477.5L274.6 1479.8L275.4 1477.3L276.3 1476.8L277.1 1480.6L278.0 1479.1L278.8 1477.6L279.6 1479.3L280.5 1477.4L281.3 1479.5L282.2 1481.4L283.0 1481.0L283.8 1479.7L284.8 1482.9L285.7 1483.6L286.6 1486.5L287.6 1488.2L288.5 1492.0L289.3 1488.5L290.1 1483.0L290.9 1478.3L291.8 1479.6L292.6 1477.9L293.5 1477.6L294.3 1480.1L295.2 1480.9L296.0 1480.5L296.8 1480.4L297.7 1480.6L298.5 1480.4L299.4 1478.5L300.2 1479.7L301.1 1484.9L302.0 1489.3L302.9 1493.2L303.8 1500.2L304.6 1491.9L305.4 1486.5L306.2 1481.0L307.1 1479.8L307.9 1481.2L308.8 1482.0L309.6 1479.6L310.5 1481.3L311.3 1481.2L312.2 1480.7L313.0 1478.1L313.9 1478.3L314.7 1476.5L315.5 1475.9L316.3 1475.1L317.1 1474.4L318.0 1475.4L318.8 1475.8L319.6 1474.9L320.4 1472.8L321.2 1472.8L322.1 1471.5L322.9 1473.8L323.7 1472.0L324.5 1475.4L325.3 1477.5L326.1 1477.0L327.0 1478.1L327.8 1478.0L328.6 1477.0L329.5 1475.8L330.3 1477.9L331.1 1476.7L332.0 1478.0L332.8 1478.5L333.7 1476.9L334.5 1477.0L335.3 1478.5L336.2 1477.9L337.0 1476.4L337.8 1476.3L338.7 1476.4L339.5 1478.6L340.3 1478.3L341.2 1477.5L342.0 1476.5L342.8 1478.4L343.6 1478.7L344.4 1477.8L345.2 1476.9L346.0 1477.4L346.8 1476.2L347.6 1475.9L348.4 1478.5L349.2 1477.6L350.0 1477.2L350.8 1478.3L351.6 1476.9L352.4 1478.1L353.2 1477.9L354.0 1476.2L354.8 1477.0L355.6 1476.2L356.4 1476.3L357.2 1476.1L358.0 1477.1L358.8 1476.1L359.6 1476.5L360.4 1475.7L361.2 1477.8L362.0 1476.3L362.8 1476.5L363.6 1476.8L364.4 1477.7L365.2 1476.3L366.0 1477.7L366.8 1476.5L367.6 1476.5L368.4 1476.4L369.3 1476.4L370.1 1475.0L370.9 1476.1L371.7 1475.3L372.5 1474.7L373.4 1476.9L374.2 1475.1L375.0 1475.9L375.8 1476.5L376.6 1476.0L377.5 1475.3L378.3 1475.8L379.1 1475.9L379.9 1476.4L380.7 1475.6L382.1 1468.8L382.9 1467.4L383.7 1468.4L384.6 1467.2L385.4 1467.1L386.2 1467.4L387.6 1477.0L388.4 1477.3L389.2 1476.2L390.0 1475.9L390.8 1476.0L391.6 1476.1L392.5 1474.3L393.3 1474.4L394.1 1473.7L394.9 1473.3L395.7 1472.9L396.7 1472.5L397.6 1470.9L398.5 1470.1L399.3 1471.6L400.1 1472.8L400.9 1475.5L401.7 1476.1L402.6 1477.0L403.4 1478.1L404.3 1478.4L405.1 1476.6L406.0 1477.5L406.8 1478.7L407.7 1478.5L408.5 1476.7L409.4 1477.8L410.2 1476.6L411.0 1477.4L411.8 1476.3L412.6 1476.7L413.4 1476.1L414.2 1477.7L415.0 1477.9L415.8 1478.1L416.6 1475.9L417.4 1477.4L418.2 1477.2L419.0 1475.6L419.8 1477.6L420.6 1477.7L421.4 1475.5L422.2 1477.5L423.0 1476.1L424.1 1484.3L425.5 1476.1L426.4 1475.7L427.2 1475.8L428.1 1477.1L428.9 1476.5L429.8 1474.5L430.7 1475.1L431.5 1475.2L432.4 1474.5L433.2 1474.0L434.1 1474.2L435.0 1475.1L435.8 1473.0L436.7 1474.2L437.5 1474.4L438.3 1474.2L439.1 1473.0L439.9 1473.9L440.7 1474.8L441.5 1474.5L442.3 1473.3L443.1 1476.0L443.9 1475.5L444.7 1476.0L445.5 1473.6L446.3 1474.1L447.1 1473.6L447.9 1475.7L448.7 1474.3L449.5 1474.0L450.3 1475.0L451.1 1474.7L451.9 1476.0L452.7 1475.6L453.5 1474.0L454.3 1473.6L455.1 1475.6L455.9 1474.6L456.7 1474.8L457.6 1473.0L458.4 1472.8L459.2 1474.5L460.0 1473.7L460.8 1472.6L461.6 1474.9L462.4 1474.0L463.2 1474.3L464.0 1473.4L464.8 1472.3L465.6 1474.6L466.4 1472.4L467.2 1474.7L468.1 1473.7L468.9 1473.4L469.7 1474.1L470.5 1475.3L471.3 1473.5L472.2 1474.2L473.1 1476.4L474.0 1480.7L474.9 1483.8L475.8 1484.4L476.7 1485.4L477.6 1487.9L478.5 1486.9L479.3 1486.6L480.1 1487.0L481.0 1487.3L481.8 1487.3L482.7 1488.6L483.5 1487.3L484.3 1487.9L485.2 1487.0L486.0 1487.4L486.9 1486.5L487.7 1487.2L488.5 1487.9L489.4 1486.4L490.2 1488.3L491.0 1487.7L491.8 1486.6L492.6 1487.3L493.4 1488.5L494.3 1486.1L495.1 1488.0L495.9 1486.8L496.7 1486.9L497.5 1487.7L498.4 1486.4L499.2 1486.6L500.0 1486.5L500.8 1486.9L501.6 1487.6L502.5 1485.7L503.3 1487.0L504.1 1486.5L504.9 1486.2L505.7 1485.5L506.6 1485.2L507.4 1484.3L508.2 1484.4L509.0 1484.1L509.8 1485.9L510.6 1484.4L511.5 1484.0L512.3 1483.7L513.1 1485.7L513.9 1485.7L514.7 1485.0L515.6 1483.8L516.4 1484.3L517.2 1483.7L518.0 1483.9L518.8 1484.4L519.7 1483.7L520.5 1484.5L521.3 1484.1L522.1 1486.1L522.9 1486.2L523.7 1485.1L524.6 1484.4L525.4 1486.5L526.2 1484.7L527.0 1484.9L527.8 1484.0L528.7 1485.1L529.5 1485.5L530.3 1485.6L531.1 1484.8L531.9 1485.8L532.8 1484.4L533.6 1485.2L534.4 1484.8L535.2 1485.8L536.0 1484.8L536.8 1484.9L537.7 1485.7L538.5 1485.6L539.3 1486.7L540.1 1486.5L541.1 1490.5L542.1 1495.5L543.1 1498.0L544.1 1498.7L545.0 1498.9L545.9 1499.6L546.8 1497.0L547.8 1497.4L549.1 1478.3L550.0 1482.4L550.9 1490.8L551.9 1493.3L552.7 1488.1L553.5 1487.7L554.3 1483.8L555.1 1479.7L556.0 1482.3L557.0 1491.4L557.9 1494.7L558.8 1491.5L559.7 1484.8L560.6 1478.9L561.5 1483.9L562.4 1488.1L563.3 1488.5L564.1 1494.1L565.0 1494.3L565.9 1494.2L566.8 1495.9L567.7 1495.7L568.6 1495.8L569.5 1494.6L570.4 1494.1L571.4 1489.6L572.3 1481.0L573.1 1481.7L574.0 1481.5L574.8 1478.8L575.6 1478.6L576.4 1479.7L577.2 1478.5L578.0 1479.0L578.8 1478.1L579.6 1480.0L580.4 1479.0L581.2 1479.1L582.0 1478.9L582.8 1478.9L583.6 1478.2L584.4 1476.7L585.2 1478.8L586.1 1478.5L586.9 1477.6L587.7 1477.5L588.5 1477.7L589.3 1475.9L590.1 1477.0L590.9 1477.9L591.7 1476.8L592.5 1476.6L593.3 1477.4L594.2 1479.0L595.0 1477.8L595.8 1479.5L596.6 1480.5L597.4 1479.4L598.3 1479.7L599.1 1479.3L599.9 1479.6L600.7 1480.1L601.5 1480.4L602.3 1479.9L603.1 1480.0L603.9 1478.4L604.7 1478.6L605.5 1478.8L606.3 1480.2L607.1 1479.0L607.9 1479.7L608.7 1478.1L609.5 1478.2L610.3 1478.8L611.1 1479.9L611.9 1479.9L612.7 1479.9L613.5 1478.8L614.3 1479.4L615.1 1479.2L615.9 1479.2L616.7 1478.2L617.5 1480.4L618.3 1478.4L619.1 1480.6L619.9 1480.5L620.7 1477.9L621.5 1479.1L622.3 1480.1L623.1 1480.5L623.9 1479.0L624.7 1478.5L625.5 1479.1L626.4 1478.5L627.2 1480.6L628.0 1478.7L628.8 1479.9L629.6 1478.8L630.4 1480.0L631.2 1481.3L632.0 1479.1L632.8 1481.2L633.7 1480.4L634.5 1481.6L635.3 1481.2L636.1 1480.0L636.9 1482.0L637.7 1481.0L638.5 1479.8L639.3 1479.9L640.2 1481.4L641.0 1481.4L641.8 1481.1L642.6 1480.8L643.4 1481.5L644.2 1481.5L645.0 1483.1L645.8 1480.9L646.6 1483.1L647.5 1483.5L648.3 1481.6L649.1 1484.0L649.9 1483.5L650.7 1484.1L651.5 1482.6L652.3 1482.9L653.1 1483.1L653.9 1484.9L654.8 1483.9L655.6 1483.8L656.4 1483.5L657.2 1483.7L658.0 1483.4L658.8 1482.8L659.6 1483.1L660.4 1485.2L661.2 1483.7L662.0 1485.6L662.8 1483.8L663.6 1483.9L664.4 1484.7L665.2 1483.9L666.0 1484.5L666.8 1486.2L667.6 1486.1L668.4 1485.9L669.2 1485.5L670.0 1486.4L670.8 1486.5L671.6 1485.5L672.4 1486.1L673.2 1484.3L674.0 1486.3L674.8 1485.6L675.6 1486.5L676.4 1486.3L677.2 1485.3L678.0 1484.8L678.8 1487.3L679.6 1485.1L680.5 1486.2L681.3 1485.9L682.1 1485.9L682.9 1487.2L683.7 1487.9L684.5 1486.0L685.3 1487.2L686.1 1486.3L686.9 1487.1L687.7 1486.7L688.5 1486.1L689.3 1486.2L690.1 1486.4L690.9 1488.4L691.7 1487.4L692.5 1486.7L693.3 1488.7L694.1 1489.0L694.9 1487.6L695.7 1486.8L696.5 1487.0L697.3 1486.8L698.1 1487.6L698.9 1487.0L699.7 1487.5L700.5 1487.6L701.3 1488.5L702.1 1489.5L702.9 1489.2L703.7 1488.3L704.5 1488.4L705.3 1488.8L706.1 1488.5L706.9 1488.5L707.7 1487.8L708.5 1488.5L709.4 1490.5L710.2 1489.2L711.5 1467.4L712.3 1466.6L713.2 1468.0L714.0 1468.6L714.8 1469.5L715.6 1468.0L716.4 1468.4L717.2 1468.6L718.1 1469.3L718.9 1469.7L719.7 1470.1L720.5 1471.6L721.3 1471.5L722.2 1471.7L723.0 1469.5L723.8 1469.7L724.6 1471.8L725.4 1472.5L726.3 1471.5L727.1 1472.0L727.9 1470.6L728.7 1471.8L729.5 1473.5L730.3 1473.4L731.2 1473.7L732.0 1472.9L732.8 1474.4L733.7 1472.5L734.5 1472.3L735.4 1472.6L736.3 1473.8L737.1 1474.4L738.0 1475.3L738.8 1474.2L739.6 1478.5L740.4 1481.6L741.3 1481.9L742.1 1482.2L742.9 1481.2L743.7 1481.4L744.5 1479.9L745.4 1481.9L746.2 1480.3L747.0 1482.1L747.8 1481.3L748.6 1480.2L749.5 1479.6L750.3 1479.9L751.1 1480.9L751.9 1481.0L752.7 1479.3L753.5 1479.1L754.4 1480.3L755.2 1480.3L756.0 1479.7L756.8 1479.2L757.6 1480.1L758.5 1478.4L759.3 1479.7L760.1 1479.1L760.9 1479.5L761.7 1480.9L762.6 1480.0L763.4 1480.6L764.2 1479.4L765.0 1478.7L765.8 1478.7L766.6 1480.7L767.5 1479.9L768.3 1478.8L769.1 1477.9L769.9 1479.2L770.7 1479.7L771.6 1478.9L772.4 1478.5L773.2 1479.6L774.0 1480.3L774.8 1478.3L775.7 1477.7L776.5 1478.5L777.3 1478.7L778.1 1479.4L778.9 1478.0L779.7 1479.7L780.6 1479.5L781.4 1478.8L782.2 1477.9L783.0 1480.0L783.8 1478.1L784.7 1479.5L785.5 1477.8L786.3 1477.8L787.1 1479.3L787.9 1477.9L788.8 1479.7L789.6 1478.4L790.4 1477.5L791.2 1477.6L792.0 1478.3L792.8 1478.1L793.7 1478.8L794.5 1479.6L795.3 1477.3L796.1 1478.0L796.9 1477.5L797.8 1479.6L798.6 1477.3L799.4 1477.1L800.2 1477.1L801.0 1478.0L801.9 1479.4L802.7 1479.4L803.5 1479.0L804.3 1479.7L805.1 1479.5L805.9 1477.8L806.8 1477.4L807.6 1479.5L808.4 1479.0L809.2 1477.0L810.0 1478.8L810.9 1478.0L811.7 1478.0L812.5 1477.8L813.3 1477.4L814.1 1476.9L815.0 1477.7L815.8 1477.9L816.6 1479.6L817.4 1477.3L818.2 1479.6L819.1 1477.5L819.9 1478.3L820.8 1475.6L821.7 1474.7L822.6 1471.5L823.5 1472.5L824.3 1471.5L825.2 1470.6L826.1 1471.9L827.0 1472.0L827.9 1484.4L828.9 1497.4L829.7 1490.4L830.5 1481.0L831.4 1480.0L832.3 1480.4L833.2 1481.7L834.0 1479.1L834.9 1480.0L835.8 1481.0L836.7 1480.7L837.5 1478.5L838.4 1479.7L839.2 1480.4L840.1 1482.6L840.9 1487.0L841.7 1487.2L842.5 1490.6L843.3 1492.0L844.2 1493.4L845.1 1492.1L845.9 1492.3L846.8 1494.5L847.6 1493.9L848.5 1493.2L849.3 1494.1L850.2 1494.5L851.0 1493.1L851.8 1492.8L852.6 1491.8L853.4 1493.6L854.3 1493.8L855.1 1492.8L855.9 1493.4L856.7 1490.6L857.5 1490.9L858.4 1491.3L859.2 1492.4L860.0 1492.2L860.8 1490.3L861.6 1489.7L862.4 1489.9L863.3 1489.9L864.1 1490.8L864.9 1488.5L865.7 1490.0L866.5 1489.5L867.4 1489.5L868.2 1489.1L869.0 1488.4L869.8 1487.9L870.6 1487.3L871.5 1487.1L872.3 1487.1L873.1 1488.2L873.9 1486.1L874.7 1486.3L875.5 1487.7L876.4 1486.1L877.2 1485.5L878.0 1485.3L878.8 1486.6L879.6 1485.9L880.5 1487.6L881.3 1487.2L882.1 1486.0L882.9 1485.6L883.7 1481.8L884.6 1479.6L885.4 1477.9L886.2 1477.3L887.0 1475.6L888.1 1481.1L889.2 1485.4L890.0 1485.2L890.8 1484.5L891.6 1484.9L892.4 1485.3L893.2 1485.4L894.0 1485.5L894.8 1485.6L895.6 1485.0L896.4 1483.4L897.2 1485.3L898.0 1483.6L898.9 1484.3L899.7 1483.6L900.5 1485.0L901.3 1482.3L902.1 1482.5L902.9 1482.3L903.7 1481.8L904.5 1485.2L905.3 1483.2L906.7 1470.1L907.6 1470.5L908.5 1469.3L909.3 1469.6L910.2 1472.5L911.1 1470.2L912.0 1468.8L912.9 1470.1L913.9 1481.8L914.8 1490.6L915.8 1491.6L916.7 1493.4L917.6 1489.4L918.5 1491.4L919.4 1493.3L920.3 1492.0L921.2 1486.5L922.1 1479.8L923.0 1470.7L923.9 1468.5L924.7 1469.8L925.6 1469.0L926.4 1469.4L927.2 1473.2L928.1 1471.3L928.9 1473.0L929.8 1470.4L930.6 1472.8L931.4 1470.9L932.3 1470.0L933.1 1472.5L934.0 1471.2L934.9 1473.7L935.8 1470.1L936.7 1472.3L937.5 1478.0L938.3 1483.4L939.1 1486.7L940.0 1493.3L940.9 1492.7L941.7 1491.6L942.6 1491.9L943.5 1492.2L944.4 1493.8L945.3 1494.1L946.2 1493.3L947.6 1475.0L948.4 1473.6L949.2 1472.7L950.1 1474.2L950.9 1475.9L951.7 1475.0L952.6 1482.0L953.6 1492.0L954.4 1492.0L955.2 1492.4L956.1 1496.1L956.9 1495.8L957.7 1494.4L958.5 1497.4L959.4 1491.4L960.3 1488.7L961.2 1485.4L962.1 1481.0L963.0 1474.9L964.0 1467.4L964.8 1465.5L965.7 1465.9L966.5 1468.5L967.3 1467.1L968.2 1466.6L969.0 1466.7L969.9 1469.9L970.7 1466.8L971.5 1468.1L972.4 1467.1L973.2 1467.5L974.1 1469.7L974.9 1467.9L975.8 1473.8L976.7 1474.2L977.6 1478.3L978.4 1476.2L979.3 1478.1L980.1 1474.9L980.9 1473.3L981.7 1476.9L982.5 1473.9L983.4 1475.2L984.2 1472.5L985.0 1472.3L985.8 1473.9L986.7 1471.6L987.5 1470.0L988.3 1469.0L989.2 1471.3L990.0 1471.5L990.8 1472.6L991.7 1468.4L992.5 1470.7L993.3 1469.3L994.2 1469.7L995.0 1467.7L995.8 1468.1L996.7 1469.0L997.5 1470.7L998.3 1466.6L999.2 1468.1L1000.0 1467.9L1000.8 1469.4L1001.6 1470.4L1002.5 1468.9L1003.3 1469.3L1004.1 1472.1L1004.9 1471.5L1005.7 1475.0L1006.6 1475.8L1007.4 1476.8L1008.2 1480.2L1009.0 1479.7L1009.8 1476.4L1010.6 1476.1L1011.5 1473.6L1012.3 1471.5L1013.1 1472.8L1013.9 1471.4L1014.7 1473.5L1015.6 1472.4L1016.4 1473.3L1017.2 1474.9L1018.0 1475.3L1018.8 1473.9L1019.7 1474.4L1020.5 1475.6L1021.3 1475.8L1022.1 1476.6L1023.0 1476.7L1023.8 1476.5L1024.7 1477.3L1025.5 1479.1L1026.3 1480.1L1027.2 1478.2L1028.0 1480.2L1028.9 1481.2L1029.7 1479.7L1030.5 1482.4L1031.4 1480.9L1032.2 1482.4L1033.0 1478.6L1033.8 1474.4L1034.7 1470.5L1035.5 1466.0L1036.3 1465.7L1037.1 1466.1L1037.9 1466.8L1038.8 1466.5L1039.6 1466.9L1040.4 1470.0L1041.2 1472.1L1042.0 1474.7L1042.8 1476.2L1043.7 1480.2L1044.5 1478.5L1045.3 1476.2L1046.1 1473.4L1046.9 1472.9L1047.8 1470.1L1048.6 1470.9L1049.4 1469.9L1050.2 1469.1L1051.0 1469.9L1051.8 1468.8L1052.6 1468.8L1053.4 1469.6L1054.2 1468.6L1055.0 1469.5L1055.8 1469.7L1056.7 1468.3L1057.5 1469.9L1058.3 1468.3L1059.1 1470.1L1059.9 1470.2L1060.7 1469.4L1061.5 1468.0L1062.3 1469.2L1063.1 1468.8L1063.9 1470.4L1064.7 1468.1L1065.6 1470.0L1066.4 1470.4L1067.2 1469.6L1068.0 1469.7L1068.8 1468.0L1069.6 1468.8L1070.4 1470.2L1071.2 1469.0L1072.1 1470.4L1072.9 1470.5L1073.7 1468.5L1074.5 1470.4L1075.3 1470.9L1076.1 1468.6L1077.0 1469.5L1077.8 1470.8L1078.6 1469.3L1079.4 1471.4L1080.2 1469.8L1081.1 1471.5L1081.9 1469.7L1082.7 1470.9L1083.5 1472.2L1084.3 1470.3L1085.2 1470.6L1086.0 1471.4L1086.8 1471.0L1087.6 1470.4L1088.4 1470.9L1089.2 1471.0L1090.1 1472.0L1090.9 1472.3L1091.8 1470.7L1092.6 1470.4L1093.5 1467.4L1094.3 1468.2L1095.2 1465.4L1096.0 1465.7L1096.9 1464.7L1097.7 1465.6L1098.5 1465.4L1099.3 1467.4L1100.2 1467.0L1101.0 1467.6L1101.8 1469.0L1102.6 1467.4L1103.4 1470.4L1104.3 1469.9L1105.1 1470.1L1105.9 1470.0L1106.8 1471.4L1107.7 1470.1L1108.6 1472.3L1109.4 1471.3L1110.3 1470.9L1111.2 1472.3L1112.0 1471.6L1112.9 1471.0L1113.8 1472.8L1114.6 1472.3L1115.4 1470.8L1116.2 1472.7L1117.0 1470.9L1117.8 1471.7L1118.6 1472.4L1119.4 1471.0L1120.2 1471.0L1121.1 1469.7L1121.9 1468.6L1122.7 1468.4L1123.5 1468.5L1124.3 1469.6L1125.1 1468.8L1125.9 1468.8L1126.7 1469.6L1127.5 1467.2L1128.3 1467.9L1129.1 1467.3L1129.9 1468.6L1130.7 1466.9L1131.6 1467.0L1132.4 1468.1L1133.2 1467.5L1134.0 1468.3L1134.8 1468.0L1135.6 1469.2L1136.5 1469.3L1137.3 1468.3L1138.1 1469.6L1138.9 1469.3L1139.7 1468.5L1140.6 1469.6L1141.5 1473.0L1142.4 1473.2L1143.3 1476.1L1144.1 1475.1L1144.9 1475.0L1145.7 1476.5L1146.6 1477.1L1147.4 1476.8L1148.2 1475.7L1149.0 1475.3L1149.8 1474.6L1150.7 1476.3L1151.5 1476.1L1152.3 1475.5L1153.1 1476.3L1153.9 1475.7L1154.7 1477.1L1155.6 1476.5L1156.4 1475.1L1157.2 1476.9L1158.0 1474.5L1158.8 1475.8L1159.7 1475.4L1160.5 1474.9L1161.3 1474.4L1162.1 1476.4L1162.9 1474.2L1163.8 1475.6L1164.6 1475.7L1165.4 1476.8L1166.2 1474.5L1167.0 1474.6L1167.8 1475.7L1168.6 1475.4L1169.4 1475.7L1170.2 1476.2L1171.1 1474.4L1171.9 1474.7L1172.7 1474.6L1173.5 1473.9L1174.3 1476.2L1175.1 1475.9L1175.9 1475.7L1176.7 1473.6L1177.6 1475.9L1178.4 1475.6L1179.2 1474.8L1180.0 1475.5L1180.8 1474.7L1181.6 1474.0L1182.4 1473.7L1183.2 1474.0L1184.0 1473.4L1184.9 1474.2L1185.7 1475.3L1186.5 1475.1L1187.3 1475.5L1188.1 1475.1L1188.9 1473.8L1189.7 1474.6L1190.5 1474.2L1191.3 1475.2L1192.2 1474.4L1193.0 1473.6L1193.8 1474.7L1194.6 1474.2L1195.4 1482.4L1196.5 1474.8L1197.3 1476.1L1198.1 1474.0L1198.9 1475.8L1199.7 1473.4L1200.5 1474.0L1201.4 1474.0L1202.2 1475.4L1203.0 1475.9L1203.8 1475.4L1204.6 1474.2L1205.4 1475.7L1206.2 1474.2L1207.0 1473.9L1207.8 1475.8L1208.6 1475.0L1209.4 1475.1L1210.3 1475.1L1211.1 1475.9L1211.9 1474.5L1212.7 1475.5L1213.5 1475.1L1214.3 1475.5L1215.1 1474.4L1215.9 1475.2L1216.7 1474.7L1217.5 1474.0L1218.3 1474.5L1219.1 1473.6L1220.0 1474.8L1220.8 1473.2L1221.6 1475.5L1222.4 1473.3L1223.2 1472.9L1224.0 1473.1L1224.8 1475.4L1225.6 1473.7L1226.4 1473.1L1227.2 1472.7L1228.0 1472.7L1228.8 1474.5L1229.6 1474.3L1230.4 1474.4L1231.2 1474.5L1232.0 1472.6L1232.8 1474.0L1233.6 1473.3L1234.4 1474.5L1235.2 1474.5L1236.0 1474.7L1236.9 1472.3L1237.7 1474.5L1238.5 1474.6L1239.3 1474.7L1240.1 1472.3L1240.9 1472.5L1241.7 1472.2L1242.5 1471.9L1243.3 1474.2L1244.1 1474.0L1244.9 1473.5L1245.7 1474.0L1246.5 1473.4L1247.3 1472.4L1248.1 1471.8L1248.9 1471.8L1249.7 1472.9L1250.5 1472.2L1251.4 1469.3L1252.2 1468.3L1253.0 1467.2L1253.8 1466.0L1254.7 1464.6L1255.5 1465.1L1256.4 1465.1L1257.3 1466.2L1258.1 1465.1L1259.0 1464.9L1259.9 1466.5L1260.7 1465.1L1261.6 1466.0L1262.5 1465.2L1263.3 1463.5L1264.2 1464.7L1265.1 1461.7L1266.1 1459.2L1267.0 1459.1L1267.8 1460.1L1268.7 1458.9L1269.6 1460.0L1270.5 1459.6L1271.3 1458.7L1272.2 1460.6L1273.1 1458.5L1274.0 1460.6L1274.8 1459.8L1275.7 1461.4L1276.6 1463.5L1277.5 1466.7L1278.4 1470.1L1279.3 1471.1L1280.2 1471.9L1281.1 1469.4L1282.0 1471.0L1282.9 1471.2L1283.8 1471.5L1284.7 1471.9L1285.6 1469.8L1286.4 1470.3L1287.3 1469.5L1288.1 1470.5L1289.0 1468.5L1289.8 1468.8L1290.9 1465.6L1292.0 1460.0L1292.9 1459.7L1293.9 1459.9L1294.8 1461.5L1295.7 1461.3L1296.6 1460.5L1297.5 1461.9L1298.3 1462.3L1299.1 1460.8L1299.9 1462.8L1300.7 1462.6L1301.5 1462.8L1302.4 1462.4L1303.2 1461.6L1304.0 1461.8L1304.8 1461.8L1305.6 1463.2L1306.4 1460.9L1307.2 1463.2L1308.0 1460.8L1308.8 1461.3L1309.7 1461.5L1310.5 1463.3L1311.3 1462.2L1312.1 1461.9L1312.9 1463.3L1313.7 1461.5L1314.5 1462.1L1315.3 1462.4L1316.2 1463.0L1317.0 1463.0L1317.8 1462.7L1318.6 1461.9L1319.4 1461.9L1320.2 1461.4L1321.0 1463.3L1321.8 1462.8L1322.6 1463.1L1323.5 1461.5L1324.3 1462.3L1325.1 1463.2L1325.9 1462.7L1326.7 1461.4L1327.5 1462.5L1328.3 1462.4L1329.1 1463.6L1329.9 1461.8L1330.7 1461.7L1331.5 1462.0L1332.3 1463.2L1333.1 1463.6L1333.9 1461.7L1334.7 1461.7L1335.5 1461.9L1336.3 1462.2L1337.1 1462.7L1337.9 1461.7L1338.7 1462.2L1339.6 1461.9L1340.4 1464.1L1341.2 1463.4L1342.0 1461.7L1342.8 1464.1L1343.6 1461.7L1344.4 1462.5L1345.2 1464.2L1346.0 1463.7L1346.8 1463.5L1347.6 1462.7L1348.4 1462.1L1349.2 1463.3L1350.0 1461.8L1350.8 1462.1L1351.6 1462.7L1352.4 1461.7L1353.2 1462.7L1354.0 1463.8L1354.8 1463.0L1355.6 1464.7L1356.4 1465.2L1357.3 1466.7L1358.1 1467.4L1359.2 1464.8L1360.3 1462.5L1361.2 1460.3L1362.1 1460.3L1363.0 1458.5L1363.9 1458.3L1364.8 1457.5L1365.7 1455.1L1366.6 1455.5L1367.4 1456.5L1368.3 1457.6L1369.1 1457.2L1370.0 1457.3L1370.8 1459.2L1371.7 1460.2L1372.5 1459.8L1373.4 1461.0L1374.2 1461.2L1375.0 1462.1L1375.8 1462.0L1376.6 1461.9L1377.4 1462.4L1378.3 1461.9L1379.1 1461.5L1379.9 1462.4L1380.7 1461.0L1381.5 1461.9L1382.3 1462.9L1383.1 1462.8L1383.9 1462.6L1384.7 1461.5L1385.5 1462.1L1386.3 1462.2L1387.2 1462.7L1388.0 1462.1L1388.8 1462.9L1389.6 1463.6L1390.4 1461.6L1391.2 1462.9L1392.0 1463.3L1392.8 1462.2L1393.6 1462.6L1394.4 1463.9L1395.2 1461.3L1396.0 1462.8L1396.9 1461.8L1397.7 1463.5L1398.5 1462.8L1399.4 1461.4L1400.3 1457.7L1401.2 1455.1L1402.0 1454.1L1402.9 1455.5L1403.7 1455.5L1404.5 1456.1L1405.4 1455.6L1406.2 1456.0L1407.0 1456.6L1407.8 1455.8L1408.7 1455.6L1409.5 1457.2L1410.3 1455.2L1411.2 1456.6L1412.0 1455.9L1412.8 1457.0L1413.7 1455.3L1414.5 1457.8L1415.3 1456.1L1416.2 1455.4L1417.0 1456.1L1417.8 1456.5L1418.6 1455.5L1419.5 1456.7L1420.3 1457.0L1421.2 1456.5L1422.0 1457.0L1422.9 1455.7L1423.8 1455.2L1424.6 1454.8L1425.5 1455.9L1426.4 1456.2L1427.3 1454.7L1428.1 1453.6L1429.0 1454.9L1429.9 1453.8L1430.7 1453.8L1431.5 1453.7L1432.4 1453.9L1433.2 1456.0L1434.0 1456.5L1434.9 1456.4L1435.7 1456.3L1436.5 1457.0L1437.4 1456.4L1438.2 1458.8L1439.0 1457.5L1439.9 1458.7L1440.7 1459.6L1441.5 1459.9L1442.4 1459.4L1443.2 1459.2L1444.0 1460.3L1444.9 1460.6L1445.8 1458.6L1446.7 1459.7L1447.6 1457.4L1448.5 1457.9L1449.4 1455.4L1450.3 1455.1L1451.2 1455.0L1452.1 1454.9L1452.9 1455.7L1453.8 1455.2L1454.7 1455.0L1455.5 1457.2L1456.4 1456.2L1457.3 1456.4L1458.1 1456.8L1459.0 1457.5L1459.9 1457.8L1460.7 1457.5L1461.5 1457.9L1462.4 1457.8L1463.2 1456.9L1464.0 1458.3L1464.9 1457.9L1465.7 1455.5L1466.6 1457.6L1467.4 1457.6L1468.2 1457.1L1469.1 1455.2L1469.9 1457.0L1470.7 1456.3L1471.6 1454.4L1472.4 1454.2L1473.2 1456.7L1474.1 1455.7L1474.9 1455.1L1475.7 1454.5L1476.5 1454.2L1477.3 1454.5L1478.1 1454.8L1478.9 1456.5L1479.7 1455.4L1480.5 1454.9L1481.3 1457.2L1482.1 1456.9L1482.9 1455.3L1483.7 1457.5L1484.5 1456.8L1485.3 1457.4L1486.1 1457.2L1486.9 1457.9L1487.7 1457.7L1488.5 1457.0L1489.4 1457.9L1490.2 1456.1L1491.1 1457.4L1491.9 1456.9L1492.8 1457.4L1493.6 1456.5L1494.5 1457.7L1495.3 1456.7L1496.2 1455.9L1497.0 1456.5L1497.9 1455.3L1498.8 1454.6L1499.7 1455.1L1500.6 1453.4L1501.5 1454.1L1502.5 1453.8L1503.3 1452.9L1504.1 1454.0L1504.9 1454.2L1505.7 1454.4L1506.6 1455.5L1507.4 1453.2L1508.2 1455.7L1509.0 1454.8L1509.8 1455.2L1510.6 1455.7L1511.5 1456.3L1512.3 1455.2L1513.1 1455.4L1513.9 1457.1L1514.7 1455.9L1515.6 1455.1L1516.5 1457.0L1517.3 1457.4L1518.2 1456.0L1519.1 1458.0L1520.0 1458.5L1520.8 1459.6L1521.7 1458.2L1522.6 1460.4L1523.4 1459.4L1524.3 1459.8L1525.1 1459.9L1525.9 1461.2L1526.7 1459.0L1527.6 1461.1L1528.4 1461.0L1529.2 1460.4L1530.0 1462.0L1530.8 1460.8L1531.7 1461.3L1532.5 1461.6L1533.3 1462.5L1534.1 1461.1L1534.9 1461.9L1535.8 1462.0L1536.6 1462.6L1537.4 1463.5L1538.2 1462.2L1539.0 1463.9L1539.8 1462.9L1540.7 1463.3L1541.5 1462.1L1542.3 1460.2L1543.1 1459.6L1543.9 1459.6L1544.8 1457.0L1546.1 1475.0L1547.2 1479.7L1548.3 1482.7L1549.2 1486.4L1550.2 1486.0L1551.1 1488.0L1552.0 1490.1L1552.9 1493.3L1553.9 1486.5L1554.8 1479.5L1555.7 1471.5L1556.6 1472.9L1557.5 1468.5L1558.4 1472.1L1559.3 1472.7L1560.2 1470.6L1561.1 1470.1L1562.0 1476.7L1563.0 1487.2L1563.9 1497.4L1564.8 1489.5L1565.7 1485.3L1566.7 1484.2L1567.6 1477.3L1568.5 1471.5L1569.3 1473.5L1570.1 1475.4L1571.0 1477.2L1571.8 1476.7L1572.6 1477.8L1573.4 1478.3L1574.3 1483.8L1575.2 1489.0L1576.1 1493.2L1577.1 1498.4L1578.0 1500.6L1578.9 1507.0L1579.8 1499.3L1580.7 1489.5L1581.6 1481.0L1582.4 1482.0L1583.2 1477.7L1584.1 1477.6L1584.9 1476.3L1585.7 1478.3L1586.6 1487.1L1587.5 1495.2L1588.4 1500.2L1589.3 1495.6L1590.2 1488.5L1591.2 1483.8L1592.0 1488.9L1592.9 1492.1L1593.7 1494.2L1594.6 1495.8L1595.4 1499.4L1596.3 1503.4L1597.1 1506.2L1598.0 1510.5L1598.9 1497.6L1599.8 1486.2L1600.7 1472.9L1601.6 1475.7L1602.5 1471.3L1603.4 1474.6L1604.4 1472.1L1605.3 1473.0L1606.2 1475.6L1607.1 1479.6L1608.0 1480.6L1608.9 1484.8L1609.8 1484.4L1610.7 1484.2L1611.6 1489.2L1612.5 1486.2L1613.3 1485.0L1614.2 1484.5L1615.0 1482.4L1615.9 1477.2L1616.7 1474.4L1617.6 1470.3L1618.5 1470.1L1619.3 1472.0L1620.2 1470.6L1621.0 1471.3L1621.9 1471.5L1622.7 1472.5L1623.6 1477.3L1624.4 1475.2L1625.3 1478.3L1626.2 1484.2L1627.1 1482.6L1628.0 1490.2L1628.9 1489.3L1629.8 1492.0L1630.7 1498.0L1631.6 1492.6L1632.6 1483.4L1633.5 1478.3L1634.4 1478.0L1635.3 1473.3L1636.2 1473.4L1637.0 1470.9L1637.8 1475.0L1638.6 1474.7L1639.4 1475.6L1640.2 1474.3L1641.0 1472.5L1641.8 1474.1L1642.6 1474.4L1643.4 1473.7L1644.2 1475.1L1645.0 1473.2L1645.8 1475.3L1646.6 1474.6L1647.4 1472.7L1648.2 1472.8L1649.0 1474.6L1649.8 1474.2L1650.7 1475.1L1651.5 1472.9L1652.4 1473.5L1653.2 1474.6L1654.0 1473.0L1654.9 1474.9L1655.7 1473.7L1656.6 1472.5L1657.4 1473.3L1658.2 1473.8L1659.1 1473.4L1659.9 1474.0L1660.8 1473.4L1661.6 1477.1L1662.4 1483.5L1663.2 1486.9L1664.0 1492.0L1665.1 1485.5L1666.2 1478.3L1667.0 1478.6L1667.9 1478.0L1668.7 1477.8L1669.5 1478.8L1670.3 1479.2L1671.1 1478.7L1671.9 1478.0L1672.8 1477.2L1673.6 1476.5L1674.4 1479.0L1675.2 1478.1L1676.0 1478.4L1676.9 1477.0L1677.7 1477.7L1678.5 1478.6L1679.3 1478.2L1680.1 1477.4L1681.0 1476.6L1681.8 1476.8L1682.6 1477.0L1683.5 1477.3L1684.3 1475.1L1685.2 1475.2L1686.1 1474.3L1686.9 1474.3L1687.8 1473.3L1688.7 1471.1L1689.5 1469.6L1690.4 1469.6L1691.3 1469.3L1692.1 1468.8L1693.0 1469.4L1693.8 1470.3L1694.7 1470.9L1695.6 1468.8L1696.4 1471.4L1697.3 1471.7L1698.1 1472.2L1699.0 1471.5L1699.8 1472.0L1700.6 1471.4L1701.4 1473.3L1702.2 1473.4L1703.1 1473.4L1703.9 1474.3L1704.7 1473.0L1705.5 1472.5L1706.3 1474.1L1707.2 1475.1L1708.0 1473.7L1708.8 1475.5L1709.6 1476.3L1710.4 1474.6L1711.2 1475.9L1712.1 1476.4L1712.9 1476.0L1713.7 1475.6L1714.5 1476.0L1715.3 1477.0L1716.2 1478.3L1717.1 1479.0L1717.9 1478.7L1718.8 1478.3L1719.7 1480.9L1720.6 1481.4L1721.4 1480.5L1722.3 1482.1L1723.2 1483.6L1724.0 1484.2L1724.9 1483.8L1725.7 1481.7L1726.5 1479.3L1727.3 1477.5L1728.2 1474.2L1729.0 1472.9L1729.8 1472.0L1730.6 1471.9L1731.4 1473.3L1732.2 1472.3L1733.0 1472.9L1733.8 1472.4L1734.6 1472.7L1735.4 1471.6L1736.2 1471.3L1737.0 1473.9L1737.8 1472.2L1738.6 1471.4L1739.4 1472.8L1740.2 1473.2L1741.0 1471.4L1741.8 1472.6L1742.6 1472.3L1743.5 1473.8L1744.3 1476.2L1745.1 1476.7L1745.9 1478.7L1746.7 1483.2L1747.5 1483.8L1748.4 1481.7L1749.2 1477.6L1750.0 1474.9L1750.8 1471.5L1751.6 1470.2L1752.5 1473.1L1753.3 1471.1L1754.1 1474.0L1754.9 1471.5L1755.7 1476.8L1756.6 1480.9L1757.4 1485.6L1758.2 1485.4L1759.0 1490.6L1759.8 1485.6L1760.6 1484.0L1761.5 1481.4L1762.3 1478.4L1763.1 1478.3L1763.9 1478.5L1764.7 1484.1L1765.6 1488.6L1766.4 1489.0L1767.2 1492.0L1768.0 1491.7L1768.8 1488.8L1769.7 1481.3L1770.5 1481.6L1771.3 1478.3L1772.1 1480.7L1772.9 1482.2L1773.7 1489.9L1774.6 1489.0L1775.4 1493.3L1776.2 1491.2L1777.0 1489.2L1777.8 1488.5L1778.7 1484.5L1779.5 1481.0L1780.4 1487.3L1781.3 1494.4L1782.2 1501.5L1783.6 1468.8L1784.4 1466.8L1785.2 1471.2L1786.0 1471.3L1786.8 1466.9L1787.7 1465.8L1788.5 1466.9L1789.3 1467.4L1790.1 1470.4L1790.9 1470.3L1791.8 1467.9L1792.6 1474.4L1793.4 1474.5L1794.2 1483.1L1795.0 1487.2L1795.9 1490.6L1796.7 1487.3L1797.5 1485.1L1798.3 1475.8L1799.1 1472.2L1799.9 1470.1L1800.8 1472.8L1801.6 1475.1L1802.5 1474.9L1803.3 1474.0L1804.1 1476.9L1805.0 1479.1L1805.8 1476.7L1806.7 1479.2L1807.5 1480.1L1808.3 1480.6L1809.2 1483.9L1810.0 1483.4L1810.9 1486.5L1811.7 1481.2L1812.5 1476.9L1813.3 1476.0L1814.1 1468.5L1815.0 1467.4L1815.8 1472.1L1816.7 1472.7L1817.5 1475.3L1818.4 1483.8L1819.2 1483.4L1820.1 1490.9L1821.0 1492.0L1822.1 1481.7L1823.1 1467.4L1824.0 1471.9L1824.8 1470.0L1825.6 1474.1L1826.4 1474.4L1827.2 1481.4L1828.1 1483.2L1828.9 1484.4L1829.7 1485.7L1830.5 1487.4L1831.3 1490.6L1832.2 1485.6L1833.2 1476.8L1834.1 1470.1L1835.0 1469.6L1835.9 1465.6L1836.8 1464.8L1837.7 1462.6L1838.6 1465.0L1839.5 1462.5L1840.4 1463.6L1841.3 1462.1L1842.3 1467.0L1843.2 1464.5L1844.1 1466.1L1845.0 1467.4L1845.8 1471.0L1846.6 1477.3L1847.4 1486.0L1848.3 1488.7L1849.1 1495.2L1850.0 1484.1L1850.9 1476.6L1851.8 1467.4L1852.7 1468.7L1853.6 1474.2L1854.5 1472.1L1855.4 1479.2L1856.4 1476.3L1857.3 1481.0L1858.2 1478.3L1859.1 1472.0L1860.0 1466.0L1860.8 1464.6L1861.6 1466.2L1862.4 1465.3L1863.2 1465.3L1864.0 1465.2L1864.8 1466.2L1865.6 1469.9L1866.4 1470.1L1867.2 1469.9L1868.0 1465.4L1868.8 1466.6L1869.6 1470.2L1870.4 1466.9L1871.2 1468.9L1872.0 1467.9L1872.8 1469.9L1873.6 1468.8L1874.5 1467.5L1875.3 1469.8L1876.2 1468.6L1877.0 1468.2L1877.8 1467.9L1878.7 1470.3L1879.5 1469.6L1880.4 1468.7L1881.2 1469.5L1882.0 1471.0L1882.9 1469.1L1883.7 1470.2L1884.6 1470.1L1885.4 1469.3L1886.2 1469.5L1887.0 1471.3L1887.8 1471.3L1888.6 1470.0L1889.5 1469.8L1890.3 1469.9L1891.1 1471.5L1891.9 1471.3L1892.7 1471.5L1893.6 1470.8L1894.5 1470.5L1895.3 1471.6L1896.2 1471.8L1897.1 1472.0L1898.0 1471.3L1898.8 1470.1" stroke="#b85c0a" stroke-width="7.4" fill="none" stroke-linejoin="round" stroke-linecap="round"/>
<path d="M112.4 1501.5L113.3 1508.9L114.1 1516.5L114.9 1517.4L115.7 1519.4L116.5 1518.5L117.4 1519.3L118.2 1519.2L119.0 1519.5L119.9 1518.0L120.7 1519.1L121.6 1519.5L122.4 1520.1L123.2 1517.5L124.1 1518.2L124.9 1517.4L125.8 1520.0L126.6 1519.5L127.4 1517.1L128.3 1518.7L129.1 1520.3L129.9 1520.1L130.7 1518.8L131.6 1518.5L132.4 1516.7L133.2 1516.0L134.0 1517.7L134.8 1515.8L135.6 1516.1L136.5 1517.1L137.6 1514.5L138.6 1513.8L139.7 1501.5L140.6 1499.9L141.4 1501.6L142.3 1501.6L143.1 1503.1L144.0 1502.0L144.8 1502.6L145.7 1502.2L146.5 1502.8L147.4 1502.3L148.7 1512.4L149.7 1511.8L150.6 1510.7L151.5 1511.1L152.8 1502.9L153.7 1504.6L154.5 1504.6L155.3 1503.9L156.1 1503.4L156.9 1501.9L157.8 1501.6L158.6 1501.7L159.4 1500.9L160.2 1503.3L161.0 1502.3L161.9 1504.4L162.8 1508.5L163.8 1509.7L164.7 1507.9L165.6 1508.6L166.5 1505.6L167.3 1505.8L168.1 1501.6L168.9 1501.3L169.8 1502.7L170.6 1500.2L171.4 1501.1L172.2 1504.1L173.0 1503.1L173.9 1503.0L174.7 1505.6L175.6 1509.0L176.5 1512.4L177.4 1514.3L178.2 1512.6L179.0 1511.0L179.9 1511.0L180.7 1512.3L181.5 1509.7L182.3 1510.5L183.2 1508.0L184.1 1508.3L184.9 1507.6L185.8 1507.3L186.6 1509.8L187.5 1507.4L188.3 1508.3L189.2 1508.4L190.0 1507.8L190.9 1506.7L191.7 1508.5L192.6 1506.2L193.4 1507.8L194.3 1505.8L195.1 1507.0L196.1 1504.4L197.0 1501.4L197.9 1500.2L198.8 1497.7L199.7 1498.6L200.6 1495.2L201.5 1496.4L202.3 1494.7L203.2 1496.9L204.0 1494.6L204.9 1495.4L205.7 1497.1L206.6 1496.5L207.4 1496.1L208.3 1493.7L209.2 1496.0L210.2 1493.3L211.1 1494.6L212.0 1497.0L212.9 1500.2L213.8 1501.1L214.7 1499.5L215.6 1499.4L216.5 1498.6L217.4 1498.7L218.3 1500.2L219.2 1501.4L220.0 1501.2L220.8 1503.5L221.6 1503.6L222.4 1505.1L223.3 1504.6L224.1 1506.2L225.0 1504.2L225.8 1504.2L226.7 1505.0L227.6 1502.3L228.4 1501.9L229.3 1502.9L230.2 1503.5L231.1 1502.4L232.0 1499.5L232.9 1498.5L233.8 1499.7L234.7 1498.0L235.6 1499.0L236.5 1495.8L237.4 1498.0L238.4 1497.2L239.3 1495.6L240.2 1494.7L241.1 1494.9L242.0 1494.2L242.9 1494.4L243.8 1498.2L244.7 1496.0L245.6 1497.4L246.5 1497.8L247.3 1495.7L248.1 1497.4L248.9 1496.1L249.7 1494.6L250.5 1493.8L251.4 1495.4L252.2 1492.6L253.0 1492.8L253.8 1493.3L254.7 1494.5L255.6 1496.4L256.6 1496.5L257.5 1496.2L258.4 1499.4L259.3 1498.8L260.1 1497.3L260.9 1496.2L261.7 1496.7L262.6 1497.0L263.4 1495.2L264.2 1495.2L265.0 1495.5L265.8 1495.8L266.6 1493.8L267.5 1494.7L268.4 1494.6L269.3 1496.8L270.2 1497.5L271.1 1496.7L272.0 1497.2L272.9 1496.9L273.7 1497.1L274.5 1495.4L275.3 1494.9L276.1 1494.8L276.9 1497.9L277.7 1497.0L278.5 1497.9L279.3 1494.4L280.2 1496.5L281.0 1495.9L281.8 1496.6L282.6 1495.1L283.4 1497.4L284.2 1494.0L285.0 1495.6L285.8 1496.2L286.6 1495.2L287.4 1496.6L288.2 1496.0L289.0 1495.8L289.8 1496.0L290.6 1496.4L291.4 1494.3L292.2 1495.5L293.0 1496.2L293.8 1496.0L294.6 1494.3L295.4 1495.6L296.2 1495.8L297.0 1494.7L297.8 1494.8L298.6 1493.9L299.4 1494.5L300.2 1494.1L301.0 1494.2L301.9 1491.9L302.7 1493.6L303.5 1494.5L304.3 1493.7L305.1 1492.8L305.9 1491.3L306.8 1492.2L307.6 1491.2L308.4 1490.6L309.3 1491.3L310.2 1493.6L311.1 1491.8L312.0 1495.1L313.0 1493.5L313.9 1496.1L314.7 1496.3L315.5 1495.7L316.3 1494.6L317.1 1496.1L317.9 1495.2L318.7 1495.5L319.5 1496.4L320.3 1493.9L321.1 1492.9L321.9 1493.7L322.7 1494.9L323.5 1493.1L324.3 1492.8L325.1 1495.3L325.9 1494.2L326.7 1493.3L327.5 1493.3L328.3 1494.5L329.1 1492.3L330.0 1493.4L330.8 1491.5L331.6 1492.1L332.4 1493.3L333.2 1493.5L334.1 1493.2L334.9 1491.2L335.7 1491.4L336.5 1491.9L337.3 1491.1L338.2 1490.7L339.0 1492.2L339.8 1493.6L340.6 1493.8L341.4 1493.5L342.2 1494.6L343.1 1492.3L343.9 1493.3L344.7 1491.0L345.5 1491.0L346.3 1489.2L347.2 1487.9L348.0 1487.9L349.1 1489.6L350.2 1492.0" stroke="#0a6e9a" stroke-width="7.4" fill="none" stroke-linejoin="round" stroke-linecap="round"/>
<path d="M468.7 1560.2V1514.1H462.7L472.2 1494.1L481.7 1514.1H475.7V1560.2Z" fill="#f00"/>
<text x="446.20" y="1592.40" font-size="32" fill="#f00">12 h</text>
<path d="M825.4 1563.7V1518.8H819.4L828.9 1498.8L838.4 1518.8H832.4V1563.7Z" fill="#f00"/>
<text x="799.40" y="1595.70" font-size="32" fill="#f00">24 h</text>
<path d="M1542.1 1547.1V1514.1H1536.1L1545.6 1494.1L1555.1 1514.1H1549.1V1547.1Z" fill="#f00"/>
<text x="1524.30" y="1584.80" font-size="32" fill="#f00">48 h</text>
<text x="926.30" y="1593.80" font-size="32.2" fill="#f00">Refreshing electrolyte</text>
<path d="M1705 1549.8H1759" stroke="#b85c0a" stroke-width="10.2" stroke-linecap="round"/>
<text x="1777.60" y="1556.90" font-size="29" font-weight="bold">ZnIn<tspan dy="9.57" font-size="16.24">2</tspan><tspan dy="-9.57">S</tspan><tspan dy="9.57" font-size="16.24">4</tspan></text>
<path d="M1705 1581.2H1759" stroke="#0a6e9a" stroke-width="10.2" stroke-linecap="round"/>
<text x="1783.60" y="1594.90" font-size="29" font-weight="bold">In<tspan dy="9.57" font-size="16.24">2</tspan><tspan dy="-9.57">S</tspan><tspan dy="9.57" font-size="16.24">3</tspan></text>
<rect x="111.50" y="1352.00" width="1791.20" height="269.00" fill="none" stroke="#000" stroke-width="3.6"/>
<rect x="111.50" y="1621.00" width="1791.20" height="496.00" fill="none" stroke="#000" stroke-width="3.6"/>
<path d="M410.03 1621.00v13.50M708.57 1621.00v13.50M1007.10 1621.00v13.50M1305.63 1621.00v13.50M1604.17 1621.00v13.50M1902.70 1621.00v13.50M260.77 1621.00v6.80M559.30 1621.00v6.80M857.83 1621.00v6.80M1156.37 1621.00v6.80M1454.90 1621.00v6.80M1753.43 1621.00v6.80" stroke="#000" stroke-width="3.6" fill="none"/>
<path d="M111.50 2117.00v13.50M405.77 2117.00v13.50M700.03 2117.00v13.50M994.30 2117.00v13.50M1288.57 2117.00v13.50M1582.83 2117.00v13.50M1877.10 2117.00v13.50M258.63 2117.00v6.80M552.90 2117.00v6.80M847.17 2117.00v6.80M1141.43 2117.00v6.80M1435.70 2117.00v6.80M1729.97 2117.00v6.80" stroke="#000" stroke-width="3.6" fill="none"/>
<path d="M111.50 1352.00h-13.50M111.50 1441.67h-13.50M111.50 1531.33h-13.50M111.50 1621.00h-13.50M111.50 1396.83h-6.80M111.50 1486.50h-6.80M111.50 1576.17h-6.80" stroke="#000" stroke-width="3.6" fill="none"/>
<path d="M111.50 2117.00h-13.50M111.50 2024.80h-13.50M111.50 1932.60h-13.50M111.50 1840.40h-13.50M111.50 1748.20h-13.50M111.50 1656.00h-13.50M111.50 2070.90h-6.80M111.50 1978.70h-6.80M111.50 1886.50h-6.80M111.50 1794.30h-6.80M111.50 1702.10h-6.80" stroke="#000" stroke-width="3.6" fill="none"/>
<path d="M1902.70 2117.00h13.50M1902.70 2054.77h13.50M1902.70 1992.54h13.50M1902.70 1930.31h13.50M1902.70 1868.08h13.50M1902.70 1805.85h13.50M1902.70 1743.62h13.50M1902.70 1681.39h13.50M1902.70 2085.89h6.80M1902.70 2023.65h6.80M1902.70 1961.42h6.80M1902.70 1899.19h6.80M1902.70 1836.97h6.80M1902.70 1774.74h6.80M1902.70 1712.51h6.80M1902.70 1650.28h6.80" stroke="#000" stroke-width="3.6" fill="none"/>
<text x="91.50" y="1359.80" font-size="22.4" text-anchor="end" font-weight="bold" letter-spacing="-0.5">2</text>
<text x="91.50" y="1449.47" font-size="22.4" text-anchor="end" font-weight="bold" letter-spacing="-0.5">0</text>
<text x="91.50" y="1539.13" font-size="22.4" text-anchor="end" font-weight="bold" letter-spacing="-0.5">-2</text>
<text x="91.50" y="1628.80" font-size="22.4" text-anchor="end" font-weight="bold" letter-spacing="-0.5">-4</text>
<text x="91.50" y="2124.80" font-size="22.4" text-anchor="end" font-weight="bold" letter-spacing="-0.5">0</text>
<text x="91.50" y="2032.60" font-size="22.4" text-anchor="end" font-weight="bold" letter-spacing="-0.5">20</text>
<text x="91.50" y="1940.40" font-size="22.4" text-anchor="end" font-weight="bold" letter-spacing="-0.5">40</text>
<text x="91.50" y="1848.20" font-size="22.4" text-anchor="end" font-weight="bold" letter-spacing="-0.5">60</text>
<text x="91.50" y="1756.00" font-size="22.4" text-anchor="end" font-weight="bold" letter-spacing="-0.5">80</text>
<text x="91.50" y="1663.80" font-size="22.4" text-anchor="end" font-weight="bold" letter-spacing="-0.5">100</text>
<text x="1923.30" y="2124.80" font-size="22.4" font-weight="bold" letter-spacing="-0.5">0</text>
<text x="1923.30" y="2062.57" font-size="22.4" font-weight="bold" letter-spacing="-0.5">50</text>
<text x="1923.30" y="2000.34" font-size="22.4" font-weight="bold" letter-spacing="-0.5">100</text>
<text x="1923.30" y="1938.11" font-size="22.4" font-weight="bold" letter-spacing="-0.5">150</text>
<text x="1923.30" y="1875.88" font-size="22.4" font-weight="bold" letter-spacing="-0.5">200</text>
<text x="1923.30" y="1813.65" font-size="22.4" font-weight="bold" letter-spacing="-0.5">250</text>
<text x="1923.30" y="1751.42" font-size="22.4" font-weight="bold" letter-spacing="-0.5">300</text>
<text x="1923.30" y="1689.19" font-size="22.4" font-weight="bold" letter-spacing="-0.5">350</text>
<text x="111.25" y="2155.20" font-size="22.4" text-anchor="middle" font-weight="bold" letter-spacing="-0.5">0</text>
<text x="405.85" y="2155.20" font-size="22.4" text-anchor="middle" font-weight="bold" letter-spacing="-0.5">10</text>
<text x="700.45" y="2155.20" font-size="22.4" text-anchor="middle" font-weight="bold" letter-spacing="-0.5">20</text>
<text x="995.05" y="2155.20" font-size="22.4" text-anchor="middle" font-weight="bold" letter-spacing="-0.5">30</text>
<text x="1289.65" y="2155.20" font-size="22.4" text-anchor="middle" font-weight="bold" letter-spacing="-0.5">40</text>
<text x="1584.25" y="2155.20" font-size="22.4" text-anchor="middle" font-weight="bold" letter-spacing="-0.5">50</text>
<text x="1878.85" y="2155.20" font-size="22.4" text-anchor="middle" font-weight="bold" letter-spacing="-0.5">60</text>
<text x="1009.75" y="2190.60" font-size="26.0" text-anchor="middle" font-weight="bold" letter-spacing="0.5">Time (h)</text>
<text x="47.40" y="1487.90" font-size="26.0" text-anchor="middle" font-weight="bold" letter-spacing="0.5" transform="rotate(-90 47.40 1487.90)">E (V vs RHE)</text>
<text x="45.50" y="1870.60" font-size="26.0" text-anchor="middle" font-weight="bold" letter-spacing="0.5" transform="rotate(-90 45.50 1870.60)">Faradaic efficiency (%)</text>
<text x="1992.00" y="1871.70" font-size="26.0" text-anchor="middle" font-weight="bold" letter-spacing="0.5" transform="rotate(-90 1992.00 1871.70)">Formate yield  (mmol)</text>
<ellipse cx="1009" cy="1351.1" rx="127.5" ry="50.2" fill="#fae6d0"/>
<text x="1009.40" y="1365.30" font-size="41" text-anchor="middle">300 mA cm<tspan dy="-16.40" font-size="22.96">-2</tspan></text>
<text x="0.00" y="1352.00" font-size="36.5" stroke="#000" stroke-width="0.9">g</text>
</svg>
</body></html>
